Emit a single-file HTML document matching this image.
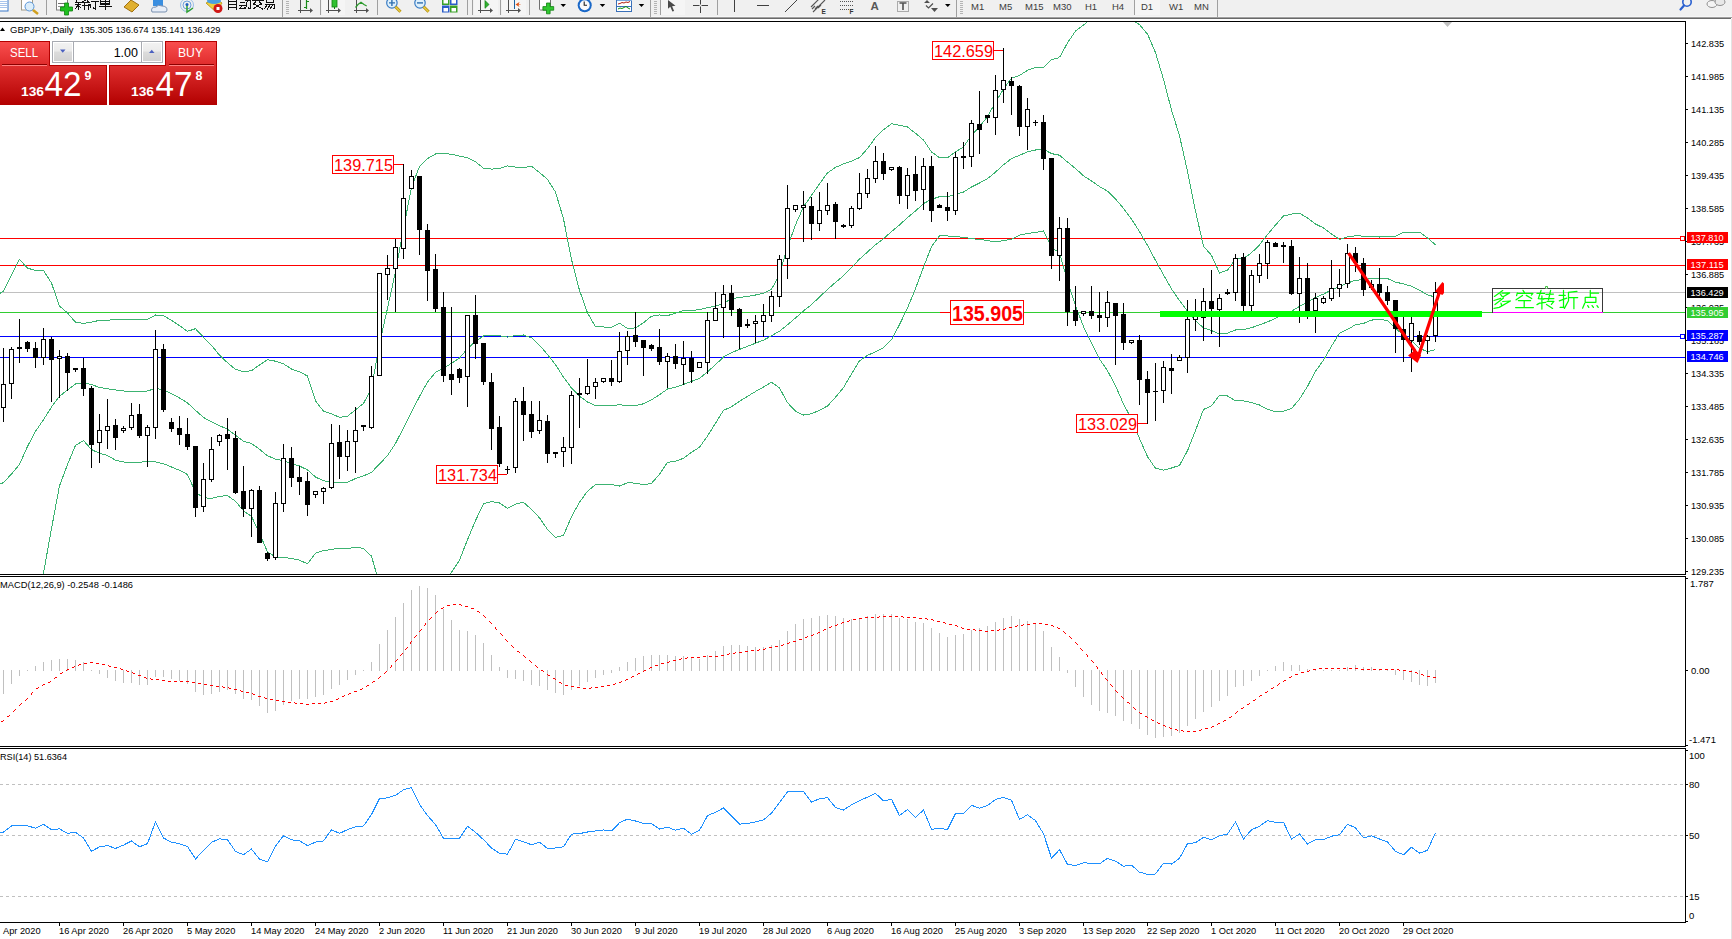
<!DOCTYPE html><html><head><meta charset="utf-8"><style>
html,body{margin:0;padding:0;background:#fff;width:1732px;height:939px;overflow:hidden}
svg{position:absolute;left:0;top:0;display:block}
text{font-family:"Liberation Sans",sans-serif}
</style></head><body>
<svg width="1732" height="939" viewBox="0 0 1732 939">
<defs><clipPath id="cm"><rect x="0" y="22" width="1685" height="552"/></clipPath><clipPath id="cmacd"><rect x="0" y="577" width="1685" height="169"/></clipPath><clipPath id="crsi"><rect x="0" y="749" width="1685" height="173"/></clipPath><linearGradient id="gred" x1="0" y1="0" x2="0" y2="1"><stop offset="0" stop-color="#f04848"/><stop offset="0.5" stop-color="#d21c1c"/><stop offset="1" stop-color="#b00000"/></linearGradient><linearGradient id="gtab" x1="0" y1="0" x2="0" y2="1"><stop offset="0" stop-color="#fa5050"/><stop offset="1" stop-color="#e02c2c"/></linearGradient><linearGradient id="gbig" x1="0" y1="0" x2="0" y2="1"><stop offset="0" stop-color="#e03030"/><stop offset="1" stop-color="#b20000"/></linearGradient><linearGradient id="gbtn" x1="0" y1="0" x2="0" y2="1"><stop offset="0" stop-color="#f2f2f2"/><stop offset="0.45" stop-color="#ebebeb"/><stop offset="0.5" stop-color="#dcdcdc"/><stop offset="1" stop-color="#d2d2d2"/></linearGradient></defs>
<rect x="0" y="0" width="1732" height="939" fill="#fff"/>
<g clip-path="url(#cm)">
<rect x="0" y="238" width="1685" height="1" fill="#ff0000"/>
<rect x="0" y="265" width="1685" height="1" fill="#ff0000"/>
<rect x="0" y="292" width="1685" height="1" fill="#c0c0c0"/>
<rect x="0" y="312" width="1685" height="1" fill="#32cd32"/>
<rect x="0" y="336" width="1685" height="1" fill="#0000ff"/>
<rect x="0" y="357" width="1685" height="1" fill="#0000ff"/>
<path d="M-4.5 486.0 L3.5 482.6 L11.5 474.0 L19.5 464.5 L27.5 446.4 L35.5 431.4 L43.5 419.7 L51.5 407.0 L59.5 396.3 L67.5 389.9 L75.5 384.0 L83.5 382.5 L91.5 384.6 L99.5 387.4 L107.5 388.8 L115.5 389.9 L123.5 391.0 L131.5 391.4 L139.5 391.4 L147.5 391.0 L155.5 388.4 L163.5 389.7 L171.5 393.7 L179.5 398.0 L187.5 402.9 L195.5 410.4 L203.5 417.4 L211.5 421.9 L219.5 425.8 L227.5 429.1 L235.5 435.3 L243.5 441.3 L251.5 443.5 L259.5 449.2 L267.5 455.8 L275.5 459.1 L283.5 460.6 L291.5 463.8 L299.5 466.0 L307.5 469.9 L315.5 477.0 L323.5 480.9 L331.5 481.6 L339.5 482.7 L347.5 482.4 L355.5 478.5 L363.5 475.9 L371.5 472.3 L379.5 464.1 L387.5 455.6 L395.5 443.4 L403.5 427.9 L411.5 412.2 L419.5 396.5 L427.5 382.1 L435.5 372.3 L443.5 368.2 L451.5 363.3 L459.5 358.1 L467.5 348.6 L475.5 341.3 L483.5 336.0 L491.5 335.3 L499.5 335.7 L507.5 337.1 L515.5 335.6 L523.5 335.0 L531.5 337.8 L539.5 345.2 L547.5 354.4 L555.5 364.7 L563.5 377.1 L571.5 388.0 L579.5 396.2 L587.5 402.0 L595.5 405.7 L603.5 405.8 L611.5 405.9 L619.5 404.6 L627.5 405.7 L635.5 405.5 L643.5 403.8 L651.5 399.8 L659.5 394.7 L667.5 389.0 L675.5 387.2 L683.5 384.4 L691.5 381.4 L699.5 378.5 L707.5 371.8 L715.5 364.7 L723.5 357.0 L731.5 352.7 L739.5 349.4 L747.5 346.3 L755.5 343.2 L763.5 340.1 L771.5 335.8 L779.5 331.2 L787.5 324.8 L795.5 318.0 L803.5 310.9 L811.5 304.6 L819.5 297.0 L827.5 289.5 L835.5 282.4 L843.5 275.8 L851.5 267.6 L859.5 259.1 L867.5 252.0 L875.5 244.7 L883.5 238.7 L891.5 231.6 L899.5 225.0 L907.5 217.5 L915.5 211.0 L923.5 203.6 L931.5 199.3 L939.5 196.7 L947.5 196.8 L955.5 194.4 L963.5 192.1 L971.5 187.0 L979.5 183.0 L987.5 178.7 L995.5 172.1 L1003.5 164.8 L1011.5 158.6 L1019.5 155.3 L1027.5 151.9 L1035.5 150.0 L1043.5 149.2 L1051.5 153.6 L1059.5 155.2 L1067.5 162.0 L1075.5 168.5 L1083.5 175.8 L1091.5 181.0 L1099.5 186.5 L1107.5 191.1 L1115.5 199.0 L1123.5 208.3 L1131.5 219.1 L1139.5 231.6 L1147.5 245.4 L1155.5 260.4 L1163.5 274.8 L1171.5 289.0 L1179.5 300.6 L1187.5 311.1 L1195.5 320.8 L1203.5 327.9 L1211.5 330.6 L1219.5 334.0 L1227.5 333.1 L1235.5 330.0 L1243.5 329.7 L1251.5 327.7 L1259.5 324.9 L1267.5 321.9 L1275.5 318.5 L1283.5 313.6 L1291.5 311.3 L1299.5 306.3 L1307.5 302.2 L1315.5 297.5 L1323.5 294.1 L1331.5 290.0 L1339.5 286.3 L1347.5 283.0 L1355.5 280.3 L1363.5 279.7 L1371.5 278.5 L1379.5 278.2 L1387.5 278.6 L1395.5 282.1 L1403.5 283.9 L1411.5 286.2 L1419.5 290.2 L1427.5 294.9 L1435.5 297.1" fill="none" stroke="#3cb371" stroke-width="1" shape-rendering="crispEdges"/>
<path d="M-4.5 296.0 L3.5 291.1 L11.5 275.1 L19.5 259.4 L27.5 268.2 L35.5 270.4 L43.5 270.4 L51.5 283.1 L59.5 306.0 L67.5 313.0 L75.5 322.2 L83.5 323.3 L91.5 322.2 L99.5 320.3 L107.5 320.3 L115.5 319.4 L123.5 319.4 L131.5 319.4 L139.5 319.4 L147.5 319.4 L155.5 315.0 L163.5 315.7 L171.5 320.4 L179.5 325.7 L187.5 331.3 L195.5 328.7 L203.5 337.3 L211.5 345.3 L219.5 355.2 L227.5 362.7 L235.5 369.4 L243.5 371.7 L251.5 370.7 L259.5 364.9 L267.5 359.7 L275.5 361.2 L283.5 363.8 L291.5 369.0 L299.5 371.8 L307.5 376.0 L315.5 400.9 L323.5 411.2 L331.5 413.7 L339.5 417.3 L347.5 416.3 L355.5 409.8 L363.5 403.5 L371.5 388.3 L379.5 343.9 L387.5 308.4 L395.5 271.6 L403.5 228.7 L411.5 187.2 L419.5 166.5 L427.5 158.6 L435.5 154.0 L443.5 153.4 L451.5 154.3 L459.5 156.1 L467.5 157.6 L475.5 161.8 L483.5 168.2 L491.5 169.1 L499.5 168.4 L507.5 165.9 L515.5 167.1 L523.5 167.7 L531.5 166.1 L539.5 172.6 L547.5 179.4 L555.5 192.0 L563.5 218.9 L571.5 259.5 L579.5 290.3 L587.5 312.9 L595.5 326.7 L603.5 327.0 L611.5 327.2 L619.5 323.2 L627.5 328.5 L635.5 327.9 L643.5 322.8 L651.5 316.2 L659.5 315.0 L667.5 315.6 L675.5 313.2 L683.5 310.4 L691.5 310.6 L699.5 309.6 L707.5 307.7 L715.5 306.1 L723.5 303.6 L731.5 298.6 L739.5 297.5 L747.5 296.4 L755.5 295.0 L763.5 293.2 L771.5 289.3 L779.5 274.6 L787.5 246.9 L795.5 224.8 L803.5 206.8 L811.5 195.4 L819.5 183.8 L827.5 172.9 L835.5 167.4 L843.5 163.9 L851.5 161.2 L859.5 157.5 L867.5 148.7 L875.5 137.6 L883.5 129.8 L891.5 123.6 L899.5 125.3 L907.5 127.0 L915.5 133.3 L923.5 140.0 L931.5 151.9 L939.5 157.7 L947.5 157.7 L955.5 151.9 L963.5 147.0 L971.5 135.2 L979.5 126.7 L987.5 116.6 L995.5 102.3 L1003.5 89.0 L1011.5 78.2 L1019.5 75.4 L1027.5 70.3 L1035.5 67.5 L1043.5 67.4 L1051.5 59.8 L1059.5 57.5 L1067.5 42.9 L1075.5 31.1 L1083.5 24.9 L1091.5 18.8 L1099.5 14.0 L1107.5 11.5 L1115.5 12.3 L1123.5 12.5 L1131.5 19.4 L1139.5 24.7 L1147.5 34.1 L1155.5 52.6 L1163.5 79.4 L1171.5 110.0 L1179.5 135.7 L1187.5 171.5 L1195.5 211.0 L1203.5 246.2 L1211.5 255.4 L1219.5 273.0 L1227.5 270.2 L1235.5 259.1 L1243.5 258.4 L1251.5 252.8 L1259.5 244.9 L1267.5 234.5 L1275.5 225.1 L1283.5 216.0 L1291.5 214.1 L1299.5 213.3 L1307.5 218.0 L1315.5 224.0 L1323.5 227.9 L1331.5 233.9 L1339.5 239.5 L1347.5 236.7 L1355.5 235.8 L1363.5 236.1 L1371.5 236.9 L1379.5 237.0 L1387.5 236.8 L1395.5 236.2 L1403.5 232.3 L1411.5 232.1 L1419.5 232.1 L1427.5 238.0 L1435.5 244.7" fill="none" stroke="#3cb371" stroke-width="1" shape-rendering="crispEdges"/>
<path d="M3.5 760.0 L11.5 720.0 L19.5 680.0 L27.5 640.0 L35.5 610.0 L43.5 573.0 L51.5 528.6 L59.5 485.8 L67.5 464.5 L75.5 445.3 L83.5 440.6 L91.5 449.5 L99.5 453.4 L107.5 455.5 L115.5 460.2 L123.5 461.9 L131.5 463.0 L139.5 462.3 L147.5 461.3 L155.5 461.9 L163.5 463.7 L171.5 467.0 L179.5 470.3 L187.5 474.5 L195.5 492.2 L203.5 497.6 L211.5 498.5 L219.5 496.4 L227.5 495.6 L235.5 501.2 L243.5 510.9 L251.5 516.3 L259.5 533.5 L267.5 551.9 L275.5 557.0 L283.5 557.4 L291.5 558.5 L299.5 560.2 L307.5 563.8 L315.5 553.2 L323.5 550.6 L331.5 549.5 L339.5 548.1 L347.5 548.5 L355.5 547.3 L363.5 548.3 L371.5 556.2 L379.5 584.3 L387.5 602.9 L395.5 615.1 L403.5 627.0 L411.5 637.1 L419.5 626.5 L427.5 605.5 L435.5 590.7 L443.5 583.0 L451.5 572.3 L459.5 560.1 L467.5 539.7 L475.5 520.7 L483.5 503.8 L491.5 501.5 L499.5 502.9 L507.5 508.3 L515.5 504.1 L523.5 502.3 L531.5 509.5 L539.5 517.8 L547.5 529.4 L555.5 537.3 L563.5 535.3 L571.5 516.6 L579.5 502.2 L587.5 491.2 L595.5 484.7 L603.5 484.7 L611.5 484.6 L619.5 486.0 L627.5 482.8 L635.5 483.1 L643.5 484.8 L651.5 483.4 L659.5 474.3 L667.5 462.4 L675.5 461.2 L683.5 458.3 L691.5 452.2 L699.5 447.3 L707.5 436.0 L715.5 423.2 L723.5 410.3 L731.5 406.8 L739.5 401.3 L747.5 396.3 L755.5 391.5 L763.5 387.0 L771.5 382.3 L779.5 387.9 L787.5 402.7 L795.5 411.2 L803.5 415.0 L811.5 413.8 L819.5 410.3 L827.5 406.0 L835.5 397.3 L843.5 387.6 L851.5 373.9 L859.5 360.8 L867.5 355.4 L875.5 351.8 L883.5 347.6 L891.5 339.6 L899.5 324.7 L907.5 308.0 L915.5 288.7 L923.5 267.1 L931.5 246.7 L939.5 235.7 L947.5 236.0 L955.5 236.9 L963.5 237.1 L971.5 238.8 L979.5 239.3 L987.5 240.7 L995.5 241.8 L1003.5 240.6 L1011.5 239.1 L1019.5 235.2 L1027.5 233.5 L1035.5 232.4 L1043.5 231.0 L1051.5 247.4 L1059.5 252.9 L1067.5 281.2 L1075.5 305.9 L1083.5 326.6 L1091.5 343.2 L1099.5 359.1 L1107.5 370.7 L1115.5 385.8 L1123.5 404.1 L1131.5 418.8 L1139.5 438.5 L1147.5 456.6 L1155.5 468.3 L1163.5 470.1 L1171.5 468.0 L1179.5 465.4 L1187.5 450.7 L1195.5 430.5 L1203.5 409.5 L1211.5 405.8 L1219.5 395.1 L1227.5 396.0 L1235.5 400.9 L1243.5 400.9 L1251.5 402.6 L1259.5 405.0 L1267.5 409.3 L1275.5 411.8 L1283.5 411.3 L1291.5 408.6 L1299.5 399.2 L1307.5 386.4 L1315.5 371.1 L1323.5 360.3 L1331.5 346.1 L1339.5 333.2 L1347.5 329.4 L1355.5 324.8 L1363.5 323.4 L1371.5 320.1 L1379.5 319.4 L1387.5 320.4 L1395.5 328.1 L1403.5 335.4 L1411.5 340.4 L1419.5 348.3 L1427.5 351.7 L1435.5 349.6" fill="none" stroke="#3cb371" stroke-width="1" shape-rendering="crispEdges"/>
<rect x="3" y="348" width="1" height="74" fill="#000"/>
<rect x="1" y="384" width="5" height="24" fill="#000"/>
<rect x="2" y="385" width="3" height="22" fill="#fff"/>
<rect x="11" y="347" width="1" height="52" fill="#000"/>
<rect x="9" y="349" width="5" height="35" fill="#000"/>
<rect x="10" y="350" width="3" height="33" fill="#fff"/>
<rect x="19" y="319" width="1" height="44" fill="#000"/>
<rect x="17" y="347" width="5" height="2" fill="#000"/>
<rect x="27" y="341" width="1" height="11" fill="#000"/>
<rect x="25" y="342" width="5" height="7" fill="#000"/>
<rect x="35" y="342" width="1" height="26" fill="#000"/>
<rect x="33" y="348" width="5" height="10" fill="#000"/>
<rect x="43" y="328" width="1" height="37" fill="#000"/>
<rect x="41" y="339" width="5" height="19" fill="#000"/>
<rect x="42" y="340" width="3" height="17" fill="#fff"/>
<rect x="51" y="337" width="1" height="65" fill="#000"/>
<rect x="49" y="339" width="5" height="21" fill="#000"/>
<rect x="59" y="350" width="1" height="48" fill="#000"/>
<rect x="57" y="356" width="5" height="3" fill="#000"/>
<rect x="58" y="357" width="3" height="1" fill="#fff"/>
<rect x="67" y="353" width="1" height="38" fill="#000"/>
<rect x="65" y="356" width="5" height="17" fill="#000"/>
<rect x="75" y="368" width="1" height="4" fill="#000"/>
<rect x="73" y="368" width="5" height="2" fill="#000"/>
<rect x="83" y="358" width="1" height="38" fill="#000"/>
<rect x="81" y="368" width="5" height="21" fill="#000"/>
<rect x="91" y="386" width="1" height="82" fill="#000"/>
<rect x="89" y="388" width="5" height="57" fill="#000"/>
<rect x="99" y="414" width="1" height="49" fill="#000"/>
<rect x="97" y="430" width="5" height="13" fill="#000"/>
<rect x="98" y="431" width="3" height="11" fill="#fff"/>
<rect x="107" y="399" width="1" height="50" fill="#000"/>
<rect x="105" y="426" width="5" height="5" fill="#000"/>
<rect x="106" y="427" width="3" height="3" fill="#fff"/>
<rect x="115" y="419" width="1" height="31" fill="#000"/>
<rect x="113" y="425" width="5" height="13" fill="#000"/>
<rect x="123" y="426" width="1" height="7" fill="#000"/>
<rect x="121" y="428" width="5" height="3" fill="#000"/>
<rect x="122" y="429" width="3" height="1" fill="#fff"/>
<rect x="131" y="403" width="1" height="27" fill="#000"/>
<rect x="129" y="415" width="5" height="13" fill="#000"/>
<rect x="130" y="416" width="3" height="11" fill="#fff"/>
<rect x="139" y="404" width="1" height="34" fill="#000"/>
<rect x="137" y="414" width="5" height="22" fill="#000"/>
<rect x="147" y="425" width="1" height="42" fill="#000"/>
<rect x="145" y="427" width="5" height="9" fill="#000"/>
<rect x="146" y="428" width="3" height="7" fill="#fff"/>
<rect x="155" y="330" width="1" height="109" fill="#000"/>
<rect x="153" y="349" width="5" height="79" fill="#000"/>
<rect x="154" y="350" width="3" height="77" fill="#fff"/>
<rect x="163" y="344" width="1" height="68" fill="#000"/>
<rect x="161" y="349" width="5" height="61" fill="#000"/>
<rect x="171" y="418" width="1" height="14" fill="#000"/>
<rect x="169" y="422" width="5" height="7" fill="#000"/>
<rect x="179" y="416" width="1" height="29" fill="#000"/>
<rect x="177" y="428" width="5" height="7" fill="#000"/>
<rect x="187" y="418" width="1" height="32" fill="#000"/>
<rect x="185" y="434" width="5" height="13" fill="#000"/>
<rect x="195" y="446" width="1" height="71" fill="#000"/>
<rect x="193" y="446" width="5" height="62" fill="#000"/>
<rect x="203" y="463" width="1" height="49" fill="#000"/>
<rect x="201" y="479" width="5" height="28" fill="#000"/>
<rect x="202" y="480" width="3" height="26" fill="#fff"/>
<rect x="211" y="437" width="1" height="45" fill="#000"/>
<rect x="209" y="449" width="5" height="31" fill="#000"/>
<rect x="210" y="450" width="3" height="29" fill="#fff"/>
<rect x="219" y="434" width="1" height="12" fill="#000"/>
<rect x="217" y="435" width="5" height="7" fill="#000"/>
<rect x="218" y="436" width="3" height="5" fill="#fff"/>
<rect x="227" y="418" width="1" height="52" fill="#000"/>
<rect x="225" y="434" width="5" height="5" fill="#000"/>
<rect x="235" y="431" width="1" height="63" fill="#000"/>
<rect x="233" y="438" width="5" height="55" fill="#000"/>
<rect x="243" y="466" width="1" height="51" fill="#000"/>
<rect x="241" y="491" width="5" height="18" fill="#000"/>
<rect x="251" y="489" width="1" height="48" fill="#000"/>
<rect x="249" y="490" width="5" height="19" fill="#000"/>
<rect x="250" y="491" width="3" height="17" fill="#fff"/>
<rect x="259" y="486" width="1" height="57" fill="#000"/>
<rect x="257" y="490" width="5" height="53" fill="#000"/>
<rect x="267" y="552" width="1" height="9" fill="#000"/>
<rect x="265" y="553" width="5" height="6" fill="#000"/>
<rect x="275" y="492" width="1" height="68" fill="#000"/>
<rect x="273" y="503" width="5" height="55" fill="#000"/>
<rect x="274" y="504" width="3" height="53" fill="#fff"/>
<rect x="283" y="444" width="1" height="68" fill="#000"/>
<rect x="281" y="458" width="5" height="46" fill="#000"/>
<rect x="282" y="459" width="3" height="44" fill="#fff"/>
<rect x="291" y="447" width="1" height="40" fill="#000"/>
<rect x="289" y="458" width="5" height="20" fill="#000"/>
<rect x="299" y="466" width="1" height="29" fill="#000"/>
<rect x="297" y="477" width="5" height="5" fill="#000"/>
<rect x="307" y="472" width="1" height="44" fill="#000"/>
<rect x="305" y="481" width="5" height="24" fill="#000"/>
<rect x="315" y="491" width="1" height="7" fill="#000"/>
<rect x="313" y="491" width="5" height="4" fill="#000"/>
<rect x="314" y="492" width="3" height="2" fill="#fff"/>
<rect x="323" y="487" width="1" height="17" fill="#000"/>
<rect x="321" y="488" width="5" height="4" fill="#000"/>
<rect x="322" y="489" width="3" height="2" fill="#fff"/>
<rect x="331" y="424" width="1" height="65" fill="#000"/>
<rect x="329" y="443" width="5" height="45" fill="#000"/>
<rect x="330" y="444" width="3" height="43" fill="#fff"/>
<rect x="339" y="425" width="1" height="54" fill="#000"/>
<rect x="337" y="442" width="5" height="15" fill="#000"/>
<rect x="347" y="430" width="1" height="41" fill="#000"/>
<rect x="345" y="441" width="5" height="16" fill="#000"/>
<rect x="346" y="442" width="3" height="14" fill="#fff"/>
<rect x="355" y="407" width="1" height="66" fill="#000"/>
<rect x="353" y="430" width="5" height="12" fill="#000"/>
<rect x="354" y="431" width="3" height="10" fill="#fff"/>
<rect x="363" y="425" width="1" height="6" fill="#000"/>
<rect x="361" y="425" width="5" height="2" fill="#000"/>
<rect x="371" y="366" width="1" height="63" fill="#000"/>
<rect x="369" y="376" width="5" height="52" fill="#000"/>
<rect x="370" y="377" width="3" height="50" fill="#fff"/>
<rect x="379" y="273" width="1" height="103" fill="#000"/>
<rect x="377" y="273" width="5" height="103" fill="#000"/>
<rect x="378" y="274" width="3" height="101" fill="#fff"/>
<rect x="387" y="255" width="1" height="45" fill="#000"/>
<rect x="385" y="268" width="5" height="7" fill="#000"/>
<rect x="386" y="269" width="3" height="5" fill="#fff"/>
<rect x="395" y="239" width="1" height="73" fill="#000"/>
<rect x="393" y="247" width="5" height="22" fill="#000"/>
<rect x="394" y="248" width="3" height="20" fill="#fff"/>
<rect x="403" y="164" width="1" height="95" fill="#000"/>
<rect x="401" y="198" width="5" height="51" fill="#000"/>
<rect x="402" y="199" width="3" height="49" fill="#fff"/>
<rect x="411" y="170" width="1" height="19" fill="#000"/>
<rect x="409" y="176" width="5" height="13" fill="#000"/>
<rect x="410" y="177" width="3" height="11" fill="#fff"/>
<rect x="419" y="176" width="1" height="79" fill="#000"/>
<rect x="417" y="176" width="5" height="54" fill="#000"/>
<rect x="427" y="224" width="1" height="77" fill="#000"/>
<rect x="425" y="230" width="5" height="41" fill="#000"/>
<rect x="435" y="254" width="1" height="58" fill="#000"/>
<rect x="433" y="269" width="5" height="40" fill="#000"/>
<rect x="443" y="292" width="1" height="90" fill="#000"/>
<rect x="441" y="307" width="5" height="69" fill="#000"/>
<rect x="451" y="307" width="1" height="88" fill="#000"/>
<rect x="449" y="374" width="5" height="6" fill="#000"/>
<rect x="459" y="368" width="1" height="15" fill="#000"/>
<rect x="457" y="369" width="5" height="9" fill="#000"/>
<rect x="467" y="315" width="1" height="92" fill="#000"/>
<rect x="465" y="315" width="5" height="62" fill="#000"/>
<rect x="466" y="316" width="3" height="60" fill="#fff"/>
<rect x="475" y="295" width="1" height="64" fill="#000"/>
<rect x="473" y="315" width="5" height="29" fill="#000"/>
<rect x="483" y="343" width="1" height="42" fill="#000"/>
<rect x="481" y="343" width="5" height="39" fill="#000"/>
<rect x="491" y="373" width="1" height="77" fill="#000"/>
<rect x="489" y="382" width="5" height="47" fill="#000"/>
<rect x="499" y="416" width="1" height="51" fill="#000"/>
<rect x="497" y="427" width="5" height="37" fill="#000"/>
<rect x="507" y="466" width="1" height="8" fill="#000"/>
<rect x="505" y="469" width="5" height="1" fill="#000"/>
<rect x="515" y="398" width="1" height="75" fill="#000"/>
<rect x="513" y="401" width="5" height="67" fill="#000"/>
<rect x="514" y="402" width="3" height="65" fill="#fff"/>
<rect x="523" y="387" width="1" height="54" fill="#000"/>
<rect x="521" y="401" width="5" height="14" fill="#000"/>
<rect x="531" y="401" width="1" height="37" fill="#000"/>
<rect x="529" y="414" width="5" height="18" fill="#000"/>
<rect x="539" y="401" width="1" height="33" fill="#000"/>
<rect x="537" y="420" width="5" height="11" fill="#000"/>
<rect x="538" y="421" width="3" height="9" fill="#fff"/>
<rect x="547" y="415" width="1" height="48" fill="#000"/>
<rect x="545" y="421" width="5" height="33" fill="#000"/>
<rect x="555" y="452" width="1" height="6" fill="#000"/>
<rect x="553" y="452" width="5" height="2" fill="#000"/>
<rect x="563" y="437" width="1" height="30" fill="#000"/>
<rect x="561" y="447" width="5" height="5" fill="#000"/>
<rect x="562" y="448" width="3" height="3" fill="#fff"/>
<rect x="571" y="391" width="1" height="73" fill="#000"/>
<rect x="569" y="395" width="5" height="53" fill="#000"/>
<rect x="570" y="396" width="3" height="51" fill="#fff"/>
<rect x="579" y="378" width="1" height="50" fill="#000"/>
<rect x="577" y="393" width="5" height="2" fill="#000"/>
<rect x="587" y="359" width="1" height="36" fill="#000"/>
<rect x="585" y="386" width="5" height="8" fill="#000"/>
<rect x="586" y="387" width="3" height="6" fill="#fff"/>
<rect x="595" y="378" width="1" height="21" fill="#000"/>
<rect x="593" y="382" width="5" height="5" fill="#000"/>
<rect x="594" y="383" width="3" height="3" fill="#fff"/>
<rect x="603" y="378" width="1" height="5" fill="#000"/>
<rect x="601" y="378" width="5" height="4" fill="#000"/>
<rect x="602" y="379" width="3" height="2" fill="#fff"/>
<rect x="611" y="360" width="1" height="26" fill="#000"/>
<rect x="609" y="378" width="5" height="4" fill="#000"/>
<rect x="619" y="332" width="1" height="51" fill="#000"/>
<rect x="617" y="351" width="5" height="31" fill="#000"/>
<rect x="618" y="352" width="3" height="29" fill="#fff"/>
<rect x="627" y="331" width="1" height="34" fill="#000"/>
<rect x="625" y="336" width="5" height="15" fill="#000"/>
<rect x="626" y="337" width="3" height="13" fill="#fff"/>
<rect x="635" y="312" width="1" height="35" fill="#000"/>
<rect x="633" y="335" width="5" height="7" fill="#000"/>
<rect x="643" y="340" width="1" height="36" fill="#000"/>
<rect x="641" y="340" width="5" height="8" fill="#000"/>
<rect x="651" y="344" width="1" height="7" fill="#000"/>
<rect x="649" y="345" width="5" height="4" fill="#000"/>
<rect x="659" y="329" width="1" height="36" fill="#000"/>
<rect x="657" y="347" width="5" height="15" fill="#000"/>
<rect x="667" y="353" width="1" height="35" fill="#000"/>
<rect x="665" y="356" width="5" height="6" fill="#000"/>
<rect x="666" y="357" width="3" height="4" fill="#fff"/>
<rect x="675" y="344" width="1" height="25" fill="#000"/>
<rect x="673" y="356" width="5" height="8" fill="#000"/>
<rect x="683" y="341" width="1" height="44" fill="#000"/>
<rect x="681" y="358" width="5" height="7" fill="#000"/>
<rect x="682" y="359" width="3" height="5" fill="#fff"/>
<rect x="691" y="351" width="1" height="32" fill="#000"/>
<rect x="689" y="358" width="5" height="14" fill="#000"/>
<rect x="699" y="362" width="1" height="6" fill="#000"/>
<rect x="697" y="362" width="5" height="6" fill="#000"/>
<rect x="698" y="363" width="3" height="4" fill="#fff"/>
<rect x="707" y="312" width="1" height="62" fill="#000"/>
<rect x="705" y="320" width="5" height="43" fill="#000"/>
<rect x="706" y="321" width="3" height="41" fill="#fff"/>
<rect x="715" y="292" width="1" height="29" fill="#000"/>
<rect x="713" y="308" width="5" height="13" fill="#000"/>
<rect x="714" y="309" width="3" height="11" fill="#fff"/>
<rect x="723" y="285" width="1" height="53" fill="#000"/>
<rect x="721" y="294" width="5" height="14" fill="#000"/>
<rect x="722" y="295" width="3" height="12" fill="#fff"/>
<rect x="731" y="285" width="1" height="31" fill="#000"/>
<rect x="729" y="293" width="5" height="17" fill="#000"/>
<rect x="739" y="308" width="1" height="41" fill="#000"/>
<rect x="737" y="309" width="5" height="18" fill="#000"/>
<rect x="747" y="319" width="1" height="9" fill="#000"/>
<rect x="745" y="324" width="5" height="2" fill="#000"/>
<rect x="755" y="315" width="1" height="28" fill="#000"/>
<rect x="753" y="321" width="5" height="3" fill="#000"/>
<rect x="754" y="322" width="3" height="1" fill="#fff"/>
<rect x="763" y="304" width="1" height="33" fill="#000"/>
<rect x="761" y="315" width="5" height="7" fill="#000"/>
<rect x="762" y="316" width="3" height="5" fill="#fff"/>
<rect x="771" y="291" width="1" height="31" fill="#000"/>
<rect x="769" y="296" width="5" height="20" fill="#000"/>
<rect x="770" y="297" width="3" height="18" fill="#fff"/>
<rect x="779" y="255" width="1" height="52" fill="#000"/>
<rect x="777" y="259" width="5" height="38" fill="#000"/>
<rect x="778" y="260" width="3" height="36" fill="#fff"/>
<rect x="787" y="185" width="1" height="94" fill="#000"/>
<rect x="785" y="208" width="5" height="51" fill="#000"/>
<rect x="786" y="209" width="3" height="49" fill="#fff"/>
<rect x="795" y="205" width="1" height="7" fill="#000"/>
<rect x="793" y="205" width="5" height="5" fill="#000"/>
<rect x="794" y="206" width="3" height="3" fill="#fff"/>
<rect x="803" y="191" width="1" height="51" fill="#000"/>
<rect x="801" y="205" width="5" height="3" fill="#000"/>
<rect x="802" y="206" width="3" height="1" fill="#fff"/>
<rect x="811" y="197" width="1" height="43" fill="#000"/>
<rect x="809" y="206" width="5" height="18" fill="#000"/>
<rect x="819" y="192" width="1" height="39" fill="#000"/>
<rect x="817" y="210" width="5" height="14" fill="#000"/>
<rect x="818" y="211" width="3" height="12" fill="#fff"/>
<rect x="827" y="183" width="1" height="32" fill="#000"/>
<rect x="825" y="205" width="5" height="6" fill="#000"/>
<rect x="826" y="206" width="3" height="4" fill="#fff"/>
<rect x="835" y="202" width="1" height="37" fill="#000"/>
<rect x="833" y="204" width="5" height="18" fill="#000"/>
<rect x="843" y="224" width="1" height="4" fill="#000"/>
<rect x="841" y="225" width="5" height="2" fill="#000"/>
<rect x="851" y="206" width="1" height="22" fill="#000"/>
<rect x="849" y="208" width="5" height="18" fill="#000"/>
<rect x="850" y="209" width="3" height="16" fill="#fff"/>
<rect x="859" y="173" width="1" height="37" fill="#000"/>
<rect x="857" y="193" width="5" height="16" fill="#000"/>
<rect x="858" y="194" width="3" height="14" fill="#fff"/>
<rect x="867" y="169" width="1" height="29" fill="#000"/>
<rect x="865" y="178" width="5" height="16" fill="#000"/>
<rect x="866" y="179" width="3" height="14" fill="#fff"/>
<rect x="875" y="146" width="1" height="37" fill="#000"/>
<rect x="873" y="161" width="5" height="18" fill="#000"/>
<rect x="874" y="162" width="3" height="16" fill="#fff"/>
<rect x="883" y="153" width="1" height="27" fill="#000"/>
<rect x="881" y="161" width="5" height="13" fill="#000"/>
<rect x="891" y="167" width="1" height="4" fill="#000"/>
<rect x="889" y="167" width="5" height="3" fill="#000"/>
<rect x="890" y="168" width="3" height="1" fill="#fff"/>
<rect x="899" y="166" width="1" height="38" fill="#000"/>
<rect x="897" y="167" width="5" height="29" fill="#000"/>
<rect x="907" y="168" width="1" height="41" fill="#000"/>
<rect x="905" y="175" width="5" height="21" fill="#000"/>
<rect x="906" y="176" width="3" height="19" fill="#fff"/>
<rect x="915" y="156" width="1" height="45" fill="#000"/>
<rect x="913" y="174" width="5" height="17" fill="#000"/>
<rect x="923" y="158" width="1" height="52" fill="#000"/>
<rect x="921" y="166" width="5" height="24" fill="#000"/>
<rect x="922" y="167" width="3" height="22" fill="#fff"/>
<rect x="931" y="156" width="1" height="66" fill="#000"/>
<rect x="929" y="166" width="5" height="45" fill="#000"/>
<rect x="939" y="204" width="1" height="4" fill="#000"/>
<rect x="937" y="205" width="5" height="3" fill="#000"/>
<rect x="947" y="192" width="1" height="29" fill="#000"/>
<rect x="945" y="207" width="5" height="4" fill="#000"/>
<rect x="955" y="152" width="1" height="63" fill="#000"/>
<rect x="953" y="157" width="5" height="54" fill="#000"/>
<rect x="954" y="158" width="3" height="52" fill="#fff"/>
<rect x="963" y="142" width="1" height="27" fill="#000"/>
<rect x="961" y="156" width="5" height="2" fill="#000"/>
<rect x="971" y="120" width="1" height="47" fill="#000"/>
<rect x="969" y="123" width="5" height="34" fill="#000"/>
<rect x="970" y="124" width="3" height="32" fill="#fff"/>
<rect x="979" y="91" width="1" height="63" fill="#000"/>
<rect x="977" y="124" width="5" height="6" fill="#000"/>
<rect x="987" y="115" width="1" height="8" fill="#000"/>
<rect x="985" y="115" width="5" height="3" fill="#000"/>
<rect x="995" y="75" width="1" height="60" fill="#000"/>
<rect x="993" y="90" width="5" height="28" fill="#000"/>
<rect x="994" y="91" width="3" height="26" fill="#fff"/>
<rect x="1003" y="48" width="1" height="55" fill="#000"/>
<rect x="1001" y="80" width="5" height="10" fill="#000"/>
<rect x="1002" y="81" width="3" height="8" fill="#fff"/>
<rect x="1011" y="77" width="1" height="38" fill="#000"/>
<rect x="1009" y="81" width="5" height="5" fill="#000"/>
<rect x="1019" y="85" width="1" height="51" fill="#000"/>
<rect x="1017" y="86" width="5" height="41" fill="#000"/>
<rect x="1027" y="98" width="1" height="52" fill="#000"/>
<rect x="1025" y="109" width="5" height="18" fill="#000"/>
<rect x="1026" y="110" width="3" height="16" fill="#fff"/>
<rect x="1035" y="120" width="1" height="6" fill="#000"/>
<rect x="1033" y="122" width="5" height="1" fill="#000"/>
<rect x="1043" y="115" width="1" height="55" fill="#000"/>
<rect x="1041" y="122" width="5" height="37" fill="#000"/>
<rect x="1051" y="158" width="1" height="111" fill="#000"/>
<rect x="1049" y="158" width="5" height="98" fill="#000"/>
<rect x="1059" y="217" width="1" height="64" fill="#000"/>
<rect x="1057" y="228" width="5" height="28" fill="#000"/>
<rect x="1058" y="229" width="3" height="26" fill="#fff"/>
<rect x="1067" y="218" width="1" height="108" fill="#000"/>
<rect x="1065" y="228" width="5" height="84" fill="#000"/>
<rect x="1075" y="286" width="1" height="40" fill="#000"/>
<rect x="1073" y="310" width="5" height="11" fill="#000"/>
<rect x="1083" y="311" width="1" height="5" fill="#000"/>
<rect x="1081" y="311" width="5" height="3" fill="#000"/>
<rect x="1082" y="312" width="3" height="1" fill="#fff"/>
<rect x="1091" y="286" width="1" height="33" fill="#000"/>
<rect x="1089" y="311" width="5" height="5" fill="#000"/>
<rect x="1099" y="292" width="1" height="40" fill="#000"/>
<rect x="1097" y="315" width="5" height="3" fill="#000"/>
<rect x="1107" y="291" width="1" height="36" fill="#000"/>
<rect x="1105" y="302" width="5" height="16" fill="#000"/>
<rect x="1106" y="303" width="3" height="14" fill="#fff"/>
<rect x="1115" y="303" width="1" height="62" fill="#000"/>
<rect x="1113" y="303" width="5" height="13" fill="#000"/>
<rect x="1123" y="303" width="1" height="47" fill="#000"/>
<rect x="1121" y="314" width="5" height="29" fill="#000"/>
<rect x="1131" y="340" width="1" height="4" fill="#000"/>
<rect x="1129" y="340" width="5" height="3" fill="#000"/>
<rect x="1130" y="341" width="3" height="1" fill="#fff"/>
<rect x="1139" y="335" width="1" height="70" fill="#000"/>
<rect x="1137" y="340" width="5" height="40" fill="#000"/>
<rect x="1147" y="371" width="1" height="53" fill="#000"/>
<rect x="1145" y="379" width="5" height="14" fill="#000"/>
<rect x="1155" y="363" width="1" height="58" fill="#000"/>
<rect x="1153" y="391" width="5" height="1" fill="#000"/>
<rect x="1163" y="361" width="1" height="42" fill="#000"/>
<rect x="1161" y="367" width="5" height="24" fill="#000"/>
<rect x="1162" y="368" width="3" height="22" fill="#fff"/>
<rect x="1171" y="354" width="1" height="40" fill="#000"/>
<rect x="1169" y="368" width="5" height="3" fill="#000"/>
<rect x="1179" y="355" width="1" height="6" fill="#000"/>
<rect x="1177" y="357" width="5" height="4" fill="#000"/>
<rect x="1178" y="358" width="3" height="2" fill="#fff"/>
<rect x="1187" y="300" width="1" height="73" fill="#000"/>
<rect x="1185" y="319" width="5" height="39" fill="#000"/>
<rect x="1186" y="320" width="3" height="37" fill="#fff"/>
<rect x="1195" y="299" width="1" height="32" fill="#000"/>
<rect x="1193" y="316" width="5" height="4" fill="#000"/>
<rect x="1194" y="317" width="3" height="2" fill="#fff"/>
<rect x="1203" y="288" width="1" height="53" fill="#000"/>
<rect x="1201" y="301" width="5" height="17" fill="#000"/>
<rect x="1202" y="302" width="3" height="15" fill="#fff"/>
<rect x="1211" y="270" width="1" height="64" fill="#000"/>
<rect x="1209" y="301" width="5" height="8" fill="#000"/>
<rect x="1219" y="294" width="1" height="53" fill="#000"/>
<rect x="1217" y="298" width="5" height="12" fill="#000"/>
<rect x="1218" y="299" width="3" height="10" fill="#fff"/>
<rect x="1227" y="289" width="1" height="6" fill="#000"/>
<rect x="1225" y="292" width="5" height="2" fill="#000"/>
<rect x="1235" y="254" width="1" height="47" fill="#000"/>
<rect x="1233" y="258" width="5" height="35" fill="#000"/>
<rect x="1234" y="259" width="3" height="33" fill="#fff"/>
<rect x="1243" y="253" width="1" height="58" fill="#000"/>
<rect x="1241" y="257" width="5" height="49" fill="#000"/>
<rect x="1251" y="270" width="1" height="41" fill="#000"/>
<rect x="1249" y="275" width="5" height="31" fill="#000"/>
<rect x="1250" y="276" width="3" height="29" fill="#fff"/>
<rect x="1259" y="254" width="1" height="29" fill="#000"/>
<rect x="1257" y="263" width="5" height="13" fill="#000"/>
<rect x="1258" y="264" width="3" height="11" fill="#fff"/>
<rect x="1267" y="240" width="1" height="39" fill="#000"/>
<rect x="1265" y="242" width="5" height="22" fill="#000"/>
<rect x="1266" y="243" width="3" height="20" fill="#fff"/>
<rect x="1275" y="242" width="1" height="5" fill="#000"/>
<rect x="1273" y="243" width="5" height="4" fill="#000"/>
<rect x="1283" y="242" width="1" height="21" fill="#000"/>
<rect x="1281" y="245" width="5" height="2" fill="#000"/>
<rect x="1291" y="240" width="1" height="55" fill="#000"/>
<rect x="1289" y="246" width="5" height="48" fill="#000"/>
<rect x="1299" y="257" width="1" height="66" fill="#000"/>
<rect x="1297" y="278" width="5" height="16" fill="#000"/>
<rect x="1298" y="279" width="3" height="14" fill="#fff"/>
<rect x="1307" y="263" width="1" height="56" fill="#000"/>
<rect x="1305" y="278" width="5" height="33" fill="#000"/>
<rect x="1315" y="293" width="1" height="40" fill="#000"/>
<rect x="1313" y="298" width="5" height="13" fill="#000"/>
<rect x="1314" y="299" width="3" height="11" fill="#fff"/>
<rect x="1323" y="296" width="1" height="8" fill="#000"/>
<rect x="1321" y="298" width="5" height="5" fill="#000"/>
<rect x="1322" y="299" width="3" height="3" fill="#fff"/>
<rect x="1331" y="260" width="1" height="41" fill="#000"/>
<rect x="1329" y="288" width="5" height="11" fill="#000"/>
<rect x="1330" y="289" width="3" height="9" fill="#fff"/>
<rect x="1339" y="269" width="1" height="28" fill="#000"/>
<rect x="1337" y="284" width="5" height="5" fill="#000"/>
<rect x="1338" y="285" width="3" height="3" fill="#fff"/>
<rect x="1347" y="244" width="1" height="44" fill="#000"/>
<rect x="1345" y="253" width="5" height="31" fill="#000"/>
<rect x="1346" y="254" width="3" height="29" fill="#fff"/>
<rect x="1355" y="247" width="1" height="25" fill="#000"/>
<rect x="1353" y="253" width="5" height="10" fill="#000"/>
<rect x="1363" y="258" width="1" height="38" fill="#000"/>
<rect x="1361" y="263" width="5" height="27" fill="#000"/>
<rect x="1371" y="280" width="1" height="10" fill="#000"/>
<rect x="1369" y="284" width="5" height="4" fill="#000"/>
<rect x="1370" y="285" width="3" height="2" fill="#fff"/>
<rect x="1379" y="268" width="1" height="30" fill="#000"/>
<rect x="1377" y="284" width="5" height="9" fill="#000"/>
<rect x="1387" y="286" width="1" height="19" fill="#000"/>
<rect x="1385" y="292" width="5" height="9" fill="#000"/>
<rect x="1395" y="300" width="1" height="53" fill="#000"/>
<rect x="1393" y="300" width="5" height="29" fill="#000"/>
<rect x="1403" y="317" width="1" height="45" fill="#000"/>
<rect x="1401" y="329" width="5" height="11" fill="#000"/>
<rect x="1411" y="317" width="1" height="55" fill="#000"/>
<rect x="1409" y="323" width="5" height="18" fill="#000"/>
<rect x="1410" y="324" width="3" height="16" fill="#fff"/>
<rect x="1419" y="331" width="1" height="14" fill="#000"/>
<rect x="1417" y="335" width="5" height="7" fill="#000"/>
<rect x="1427" y="335" width="1" height="19" fill="#000"/>
<rect x="1425" y="336" width="5" height="5" fill="#000"/>
<rect x="1426" y="337" width="3" height="3" fill="#fff"/>
<rect x="1435" y="282" width="1" height="60" fill="#000"/>
<rect x="1433" y="292" width="5" height="44" fill="#000"/>
<rect x="1434" y="293" width="3" height="42" fill="#fff"/>
</g>
<rect x="1160" y="311" width="322" height="6" fill="#00ff00"/>
<rect x="932.5" y="41.5" width="61" height="18" fill="#fff" stroke="#ff0000" stroke-width="1"/>
<rect x="994" y="50" width="9" height="1" fill="#ff0000"/>
<text x="934" y="57" font-size="16.5px" fill="#ff0000" font-weight="normal" text-anchor="start"  textLength="59" lengthAdjust="spacingAndGlyphs">142.659</text>
<rect x="332.5" y="155.5" width="61" height="18" fill="#fff" stroke="#ff0000" stroke-width="1"/>
<rect x="394" y="164" width="9" height="1" fill="#ff0000"/>
<text x="334" y="171" font-size="16.5px" fill="#ff0000" font-weight="normal" text-anchor="start"  textLength="59" lengthAdjust="spacingAndGlyphs">139.715</text>
<rect x="436.5" y="465.5" width="61" height="18" fill="#fff" stroke="#ff0000" stroke-width="1"/>
<rect x="498" y="474" width="9" height="1" fill="#ff0000"/>
<text x="438" y="481" font-size="16.5px" fill="#ff0000" font-weight="normal" text-anchor="start"  textLength="59" lengthAdjust="spacingAndGlyphs">131.734</text>
<rect x="1076.5" y="414.5" width="61" height="18" fill="#fff" stroke="#ff0000" stroke-width="1"/>
<rect x="1138" y="423" width="9" height="1" fill="#ff0000"/>
<text x="1078" y="430" font-size="16.5px" fill="#ff0000" font-weight="normal" text-anchor="start"  textLength="59" lengthAdjust="spacingAndGlyphs">133.029</text>
<rect x="950.5" y="300.5" width="73" height="24" fill="#fff" stroke="#ff0000" stroke-width="1"/>
<rect x="940" y="312" width="10" height="1" fill="#ff0000"/>
<text x="952" y="321" font-size="21.5px" fill="#ff0000" font-weight="bold" text-anchor="start"  textLength="71" lengthAdjust="spacingAndGlyphs">135.905</text>
<path d="M1348.6 253.1 L1415 351 M1418.5 356 L1439.8 291" stroke="#ff0000" stroke-width="3.2" fill="none"/>
<path d="M1408 355.5 L1415.5 349.5 L1421 355.5 L1417.5 363 Z" fill="#ff0000"/>
<path d="M1435 291.5 L1442.4 282 L1444 283.5 L1444 293 L1442.4 295 Z" fill="#ff0000"/>
<rect x="1492.5" y="288.5" width="110" height="24" fill="none" stroke="#383838" stroke-width="1"/>
<rect x="1493" y="312" width="110" height="1" fill="#ff00ff"/>
<path d="M1545.5 288.5 V286.5 H1547.5 V288.5" fill="#fff" stroke="#40c040" stroke-width="1"/>
<rect x="0" y="21" width="1686" height="1" fill="#000"/>
<rect x="1685" y="21" width="1" height="554" fill="#000"/>
<rect x="0" y="574" width="1686" height="1" fill="#000"/>
<rect x="0" y="576" width="1686" height="1" fill="#000"/>
<rect x="1685" y="576" width="1" height="171" fill="#000"/>
<rect x="0" y="746" width="1686" height="1" fill="#000"/>
<rect x="0" y="748" width="1686" height="1" fill="#000"/>
<rect x="1685" y="748" width="1" height="175" fill="#000"/>
<rect x="0" y="922" width="1686" height="1" fill="#000"/>
<path d="M1443 22 L1452 22 L1447.5 27 Z" fill="#c0c0c0"/>
<rect x="1686" y="43" width="2" height="1" fill="#000"/>
<text x="1691" y="46.5" font-size="9.5px" fill="#000" font-weight="normal" text-anchor="start"  textLength="33.2" lengthAdjust="spacingAndGlyphs">142.835</text>
<rect x="1686" y="76" width="2" height="1" fill="#000"/>
<text x="1691" y="79.5" font-size="9.5px" fill="#000" font-weight="normal" text-anchor="start"  textLength="33.2" lengthAdjust="spacingAndGlyphs">141.985</text>
<rect x="1686" y="109" width="2" height="1" fill="#000"/>
<text x="1691" y="112.5" font-size="9.5px" fill="#000" font-weight="normal" text-anchor="start"  textLength="33.2" lengthAdjust="spacingAndGlyphs">141.135</text>
<rect x="1686" y="142" width="2" height="1" fill="#000"/>
<text x="1691" y="145.5" font-size="9.5px" fill="#000" font-weight="normal" text-anchor="start"  textLength="33.2" lengthAdjust="spacingAndGlyphs">140.285</text>
<rect x="1686" y="175" width="2" height="1" fill="#000"/>
<text x="1691" y="178.5" font-size="9.5px" fill="#000" font-weight="normal" text-anchor="start"  textLength="33.2" lengthAdjust="spacingAndGlyphs">139.435</text>
<rect x="1686" y="208" width="2" height="1" fill="#000"/>
<text x="1691" y="211.5" font-size="9.5px" fill="#000" font-weight="normal" text-anchor="start"  textLength="33.2" lengthAdjust="spacingAndGlyphs">138.585</text>
<rect x="1686" y="241" width="2" height="1" fill="#000"/>
<text x="1691" y="244.5" font-size="9.5px" fill="#000" font-weight="normal" text-anchor="start"  textLength="33.2" lengthAdjust="spacingAndGlyphs">137.735</text>
<rect x="1686" y="274" width="2" height="1" fill="#000"/>
<text x="1691" y="277.5" font-size="9.5px" fill="#000" font-weight="normal" text-anchor="start"  textLength="33.2" lengthAdjust="spacingAndGlyphs">136.885</text>
<rect x="1686" y="307" width="2" height="1" fill="#000"/>
<text x="1691" y="310.5" font-size="9.5px" fill="#000" font-weight="normal" text-anchor="start"  textLength="33.2" lengthAdjust="spacingAndGlyphs">136.035</text>
<rect x="1686" y="340" width="2" height="1" fill="#000"/>
<text x="1691" y="343.5" font-size="9.5px" fill="#000" font-weight="normal" text-anchor="start"  textLength="33.2" lengthAdjust="spacingAndGlyphs">135.185</text>
<rect x="1686" y="373" width="2" height="1" fill="#000"/>
<text x="1691" y="376.5" font-size="9.5px" fill="#000" font-weight="normal" text-anchor="start"  textLength="33.2" lengthAdjust="spacingAndGlyphs">134.335</text>
<rect x="1686" y="406" width="2" height="1" fill="#000"/>
<text x="1691" y="409.5" font-size="9.5px" fill="#000" font-weight="normal" text-anchor="start"  textLength="33.2" lengthAdjust="spacingAndGlyphs">133.485</text>
<rect x="1686" y="439" width="2" height="1" fill="#000"/>
<text x="1691" y="442.5" font-size="9.5px" fill="#000" font-weight="normal" text-anchor="start"  textLength="33.2" lengthAdjust="spacingAndGlyphs">132.635</text>
<rect x="1686" y="472" width="2" height="1" fill="#000"/>
<text x="1691" y="475.5" font-size="9.5px" fill="#000" font-weight="normal" text-anchor="start"  textLength="33.2" lengthAdjust="spacingAndGlyphs">131.785</text>
<rect x="1686" y="505" width="2" height="1" fill="#000"/>
<text x="1691" y="508.5" font-size="9.5px" fill="#000" font-weight="normal" text-anchor="start"  textLength="33.2" lengthAdjust="spacingAndGlyphs">130.935</text>
<rect x="1686" y="538" width="2" height="1" fill="#000"/>
<text x="1691" y="541.5" font-size="9.5px" fill="#000" font-weight="normal" text-anchor="start"  textLength="33.2" lengthAdjust="spacingAndGlyphs">130.085</text>
<rect x="1686" y="571" width="2" height="1" fill="#000"/>
<text x="1691" y="574.5" font-size="9.5px" fill="#000" font-weight="normal" text-anchor="start"  textLength="33.2" lengthAdjust="spacingAndGlyphs">129.235</text>
<rect x="1687" y="232" width="41" height="11" fill="#ff0000"/>
<text x="1690.5" y="241" font-size="9.5px" fill="#fff" font-weight="normal" text-anchor="start"  textLength="33.2" lengthAdjust="spacingAndGlyphs">137.810</text>
<rect x="1687" y="259" width="41" height="11" fill="#ff0000"/>
<text x="1690.5" y="268" font-size="9.5px" fill="#fff" font-weight="normal" text-anchor="start"  textLength="33.2" lengthAdjust="spacingAndGlyphs">137.115</text>
<rect x="1687" y="287" width="41" height="11" fill="#000000"/>
<text x="1690.5" y="296" font-size="9.5px" fill="#fff" font-weight="normal" text-anchor="start"  textLength="33.2" lengthAdjust="spacingAndGlyphs">136.429</text>
<rect x="1687" y="307" width="41" height="11" fill="#32cd32"/>
<text x="1690.5" y="316" font-size="9.5px" fill="#fff" font-weight="normal" text-anchor="start"  textLength="33.2" lengthAdjust="spacingAndGlyphs">135.905</text>
<rect x="1687" y="330" width="41" height="11" fill="#0000ff"/>
<text x="1690.5" y="339" font-size="9.5px" fill="#fff" font-weight="normal" text-anchor="start"  textLength="33.2" lengthAdjust="spacingAndGlyphs">135.287</text>
<rect x="1687" y="351" width="41" height="11" fill="#0000ff"/>
<text x="1690.5" y="360" font-size="9.5px" fill="#fff" font-weight="normal" text-anchor="start"  textLength="33.2" lengthAdjust="spacingAndGlyphs">134.746</text>
<rect x="1680.5" y="236.5" width="4" height="4" fill="#fff" stroke="#ff0000"/>
<rect x="1680.5" y="334.5" width="4" height="4" fill="#fff" stroke="#0000ff"/>
<path d="M0 31 L2.5 27.5 L5 31 Z" fill="#000"/>
<text x="10" y="33" font-size="9.5px" fill="#000" font-weight="normal" text-anchor="start" >GBPJPY-,Daily</text>
<text x="79.5" y="33" font-size="9.5px" fill="#000" font-weight="normal" text-anchor="start"  textLength="141" lengthAdjust="spacingAndGlyphs">135.305 136.674 135.141 136.429</text>
<g clip-path="url(#cmacd)">
<rect x="3" y="670" width="1" height="24" fill="#c0c0c0"/>
<rect x="11" y="670" width="1" height="14" fill="#c0c0c0"/>
<rect x="19" y="670" width="1" height="6" fill="#c0c0c0"/>
<rect x="27" y="670" width="1" height="1" fill="#c0c0c0"/>
<rect x="35" y="666" width="1" height="5" fill="#c0c0c0"/>
<rect x="43" y="662" width="1" height="9" fill="#c0c0c0"/>
<rect x="51" y="660" width="1" height="11" fill="#c0c0c0"/>
<rect x="59" y="659" width="1" height="12" fill="#c0c0c0"/>
<rect x="67" y="659" width="1" height="12" fill="#c0c0c0"/>
<rect x="75" y="660" width="1" height="11" fill="#c0c0c0"/>
<rect x="83" y="662" width="1" height="9" fill="#c0c0c0"/>
<rect x="91" y="670" width="1" height="1" fill="#c0c0c0"/>
<rect x="99" y="670" width="1" height="4" fill="#c0c0c0"/>
<rect x="107" y="670" width="1" height="8" fill="#c0c0c0"/>
<rect x="115" y="670" width="1" height="11" fill="#c0c0c0"/>
<rect x="123" y="670" width="1" height="13" fill="#c0c0c0"/>
<rect x="131" y="670" width="1" height="13" fill="#c0c0c0"/>
<rect x="139" y="670" width="1" height="15" fill="#c0c0c0"/>
<rect x="147" y="670" width="1" height="15" fill="#c0c0c0"/>
<rect x="155" y="670" width="1" height="7" fill="#c0c0c0"/>
<rect x="163" y="670" width="1" height="7" fill="#c0c0c0"/>
<rect x="171" y="670" width="1" height="9" fill="#c0c0c0"/>
<rect x="179" y="670" width="1" height="11" fill="#c0c0c0"/>
<rect x="187" y="670" width="1" height="14" fill="#c0c0c0"/>
<rect x="195" y="670" width="1" height="22" fill="#c0c0c0"/>
<rect x="203" y="670" width="1" height="25" fill="#c0c0c0"/>
<rect x="211" y="670" width="1" height="24" fill="#c0c0c0"/>
<rect x="219" y="670" width="1" height="22" fill="#c0c0c0"/>
<rect x="227" y="670" width="1" height="20" fill="#c0c0c0"/>
<rect x="235" y="670" width="1" height="24" fill="#c0c0c0"/>
<rect x="243" y="670" width="1" height="29" fill="#c0c0c0"/>
<rect x="251" y="670" width="1" height="30" fill="#c0c0c0"/>
<rect x="259" y="670" width="1" height="36" fill="#c0c0c0"/>
<rect x="267" y="670" width="1" height="43" fill="#c0c0c0"/>
<rect x="275" y="670" width="1" height="41" fill="#c0c0c0"/>
<rect x="283" y="670" width="1" height="35" fill="#c0c0c0"/>
<rect x="291" y="670" width="1" height="31" fill="#c0c0c0"/>
<rect x="299" y="670" width="1" height="29" fill="#c0c0c0"/>
<rect x="307" y="670" width="1" height="29" fill="#c0c0c0"/>
<rect x="315" y="670" width="1" height="27" fill="#c0c0c0"/>
<rect x="323" y="670" width="1" height="25" fill="#c0c0c0"/>
<rect x="331" y="670" width="1" height="19" fill="#c0c0c0"/>
<rect x="339" y="670" width="1" height="15" fill="#c0c0c0"/>
<rect x="347" y="670" width="1" height="10" fill="#c0c0c0"/>
<rect x="355" y="670" width="1" height="5" fill="#c0c0c0"/>
<rect x="363" y="670" width="1" height="1" fill="#c0c0c0"/>
<rect x="371" y="662" width="1" height="9" fill="#c0c0c0"/>
<rect x="379" y="644" width="1" height="27" fill="#c0c0c0"/>
<rect x="387" y="630" width="1" height="41" fill="#c0c0c0"/>
<rect x="395" y="617" width="1" height="54" fill="#c0c0c0"/>
<rect x="403" y="603" width="1" height="68" fill="#c0c0c0"/>
<rect x="411" y="590" width="1" height="81" fill="#c0c0c0"/>
<rect x="419" y="586" width="1" height="85" fill="#c0c0c0"/>
<rect x="427" y="588" width="1" height="83" fill="#c0c0c0"/>
<rect x="435" y="595" width="1" height="76" fill="#c0c0c0"/>
<rect x="443" y="609" width="1" height="62" fill="#c0c0c0"/>
<rect x="451" y="620" width="1" height="51" fill="#c0c0c0"/>
<rect x="459" y="630" width="1" height="41" fill="#c0c0c0"/>
<rect x="467" y="631" width="1" height="40" fill="#c0c0c0"/>
<rect x="475" y="635" width="1" height="36" fill="#c0c0c0"/>
<rect x="483" y="643" width="1" height="28" fill="#c0c0c0"/>
<rect x="491" y="655" width="1" height="16" fill="#c0c0c0"/>
<rect x="499" y="667" width="1" height="4" fill="#c0c0c0"/>
<rect x="507" y="670" width="1" height="8" fill="#c0c0c0"/>
<rect x="515" y="670" width="1" height="9" fill="#c0c0c0"/>
<rect x="523" y="670" width="1" height="11" fill="#c0c0c0"/>
<rect x="531" y="670" width="1" height="15" fill="#c0c0c0"/>
<rect x="539" y="670" width="1" height="16" fill="#c0c0c0"/>
<rect x="547" y="670" width="1" height="20" fill="#c0c0c0"/>
<rect x="555" y="670" width="1" height="23" fill="#c0c0c0"/>
<rect x="563" y="670" width="1" height="25" fill="#c0c0c0"/>
<rect x="571" y="670" width="1" height="20" fill="#c0c0c0"/>
<rect x="579" y="670" width="1" height="16" fill="#c0c0c0"/>
<rect x="587" y="670" width="1" height="12" fill="#c0c0c0"/>
<rect x="595" y="670" width="1" height="8" fill="#c0c0c0"/>
<rect x="603" y="670" width="1" height="5" fill="#c0c0c0"/>
<rect x="611" y="670" width="1" height="3" fill="#c0c0c0"/>
<rect x="619" y="667" width="1" height="4" fill="#c0c0c0"/>
<rect x="627" y="662" width="1" height="9" fill="#c0c0c0"/>
<rect x="635" y="658" width="1" height="13" fill="#c0c0c0"/>
<rect x="643" y="656" width="1" height="15" fill="#c0c0c0"/>
<rect x="651" y="655" width="1" height="16" fill="#c0c0c0"/>
<rect x="659" y="655" width="1" height="16" fill="#c0c0c0"/>
<rect x="667" y="655" width="1" height="16" fill="#c0c0c0"/>
<rect x="675" y="656" width="1" height="15" fill="#c0c0c0"/>
<rect x="683" y="656" width="1" height="15" fill="#c0c0c0"/>
<rect x="691" y="658" width="1" height="13" fill="#c0c0c0"/>
<rect x="699" y="659" width="1" height="12" fill="#c0c0c0"/>
<rect x="707" y="655" width="1" height="16" fill="#c0c0c0"/>
<rect x="715" y="651" width="1" height="20" fill="#c0c0c0"/>
<rect x="723" y="646" width="1" height="25" fill="#c0c0c0"/>
<rect x="731" y="645" width="1" height="26" fill="#c0c0c0"/>
<rect x="739" y="645" width="1" height="26" fill="#c0c0c0"/>
<rect x="747" y="646" width="1" height="25" fill="#c0c0c0"/>
<rect x="755" y="647" width="1" height="24" fill="#c0c0c0"/>
<rect x="763" y="647" width="1" height="24" fill="#c0c0c0"/>
<rect x="771" y="645" width="1" height="26" fill="#c0c0c0"/>
<rect x="779" y="640" width="1" height="31" fill="#c0c0c0"/>
<rect x="787" y="631" width="1" height="40" fill="#c0c0c0"/>
<rect x="795" y="624" width="1" height="47" fill="#c0c0c0"/>
<rect x="803" y="619" width="1" height="52" fill="#c0c0c0"/>
<rect x="811" y="618" width="1" height="53" fill="#c0c0c0"/>
<rect x="819" y="616" width="1" height="55" fill="#c0c0c0"/>
<rect x="827" y="615" width="1" height="56" fill="#c0c0c0"/>
<rect x="835" y="616" width="1" height="55" fill="#c0c0c0"/>
<rect x="843" y="618" width="1" height="53" fill="#c0c0c0"/>
<rect x="851" y="619" width="1" height="52" fill="#c0c0c0"/>
<rect x="859" y="618" width="1" height="53" fill="#c0c0c0"/>
<rect x="867" y="616" width="1" height="55" fill="#c0c0c0"/>
<rect x="875" y="614" width="1" height="57" fill="#c0c0c0"/>
<rect x="883" y="614" width="1" height="57" fill="#c0c0c0"/>
<rect x="891" y="614" width="1" height="57" fill="#c0c0c0"/>
<rect x="899" y="618" width="1" height="53" fill="#c0c0c0"/>
<rect x="907" y="619" width="1" height="52" fill="#c0c0c0"/>
<rect x="915" y="622" width="1" height="49" fill="#c0c0c0"/>
<rect x="923" y="623" width="1" height="48" fill="#c0c0c0"/>
<rect x="931" y="628" width="1" height="43" fill="#c0c0c0"/>
<rect x="939" y="633" width="1" height="38" fill="#c0c0c0"/>
<rect x="947" y="637" width="1" height="34" fill="#c0c0c0"/>
<rect x="955" y="635" width="1" height="36" fill="#c0c0c0"/>
<rect x="963" y="634" width="1" height="37" fill="#c0c0c0"/>
<rect x="971" y="630" width="1" height="41" fill="#c0c0c0"/>
<rect x="979" y="628" width="1" height="43" fill="#c0c0c0"/>
<rect x="987" y="626" width="1" height="45" fill="#c0c0c0"/>
<rect x="995" y="622" width="1" height="49" fill="#c0c0c0"/>
<rect x="1003" y="618" width="1" height="53" fill="#c0c0c0"/>
<rect x="1011" y="616" width="1" height="55" fill="#c0c0c0"/>
<rect x="1019" y="619" width="1" height="52" fill="#c0c0c0"/>
<rect x="1027" y="621" width="1" height="50" fill="#c0c0c0"/>
<rect x="1035" y="624" width="1" height="47" fill="#c0c0c0"/>
<rect x="1043" y="631" width="1" height="40" fill="#c0c0c0"/>
<rect x="1051" y="647" width="1" height="24" fill="#c0c0c0"/>
<rect x="1059" y="657" width="1" height="14" fill="#c0c0c0"/>
<rect x="1067" y="670" width="1" height="3" fill="#c0c0c0"/>
<rect x="1075" y="670" width="1" height="17" fill="#c0c0c0"/>
<rect x="1083" y="670" width="1" height="27" fill="#c0c0c0"/>
<rect x="1091" y="670" width="1" height="35" fill="#c0c0c0"/>
<rect x="1099" y="670" width="1" height="41" fill="#c0c0c0"/>
<rect x="1107" y="670" width="1" height="43" fill="#c0c0c0"/>
<rect x="1115" y="670" width="1" height="46" fill="#c0c0c0"/>
<rect x="1123" y="670" width="1" height="51" fill="#c0c0c0"/>
<rect x="1131" y="670" width="1" height="54" fill="#c0c0c0"/>
<rect x="1139" y="670" width="1" height="59" fill="#c0c0c0"/>
<rect x="1147" y="670" width="1" height="65" fill="#c0c0c0"/>
<rect x="1155" y="670" width="1" height="68" fill="#c0c0c0"/>
<rect x="1163" y="670" width="1" height="67" fill="#c0c0c0"/>
<rect x="1171" y="670" width="1" height="66" fill="#c0c0c0"/>
<rect x="1179" y="670" width="1" height="63" fill="#c0c0c0"/>
<rect x="1187" y="670" width="1" height="56" fill="#c0c0c0"/>
<rect x="1195" y="670" width="1" height="49" fill="#c0c0c0"/>
<rect x="1203" y="670" width="1" height="42" fill="#c0c0c0"/>
<rect x="1211" y="670" width="1" height="37" fill="#c0c0c0"/>
<rect x="1219" y="670" width="1" height="31" fill="#c0c0c0"/>
<rect x="1227" y="670" width="1" height="26" fill="#c0c0c0"/>
<rect x="1235" y="670" width="1" height="17" fill="#c0c0c0"/>
<rect x="1243" y="670" width="1" height="16" fill="#c0c0c0"/>
<rect x="1251" y="670" width="1" height="11" fill="#c0c0c0"/>
<rect x="1259" y="670" width="1" height="6" fill="#c0c0c0"/>
<rect x="1267" y="670" width="1" height="1" fill="#c0c0c0"/>
<rect x="1275" y="666" width="1" height="5" fill="#c0c0c0"/>
<rect x="1283" y="662" width="1" height="9" fill="#c0c0c0"/>
<rect x="1291" y="665" width="1" height="6" fill="#c0c0c0"/>
<rect x="1299" y="665" width="1" height="6" fill="#c0c0c0"/>
<rect x="1307" y="669" width="1" height="2" fill="#c0c0c0"/>
<rect x="1315" y="670" width="1" height="1" fill="#c0c0c0"/>
<rect x="1323" y="670" width="1" height="1" fill="#c0c0c0"/>
<rect x="1331" y="670" width="1" height="1" fill="#c0c0c0"/>
<rect x="1339" y="670" width="1" height="1" fill="#c0c0c0"/>
<rect x="1347" y="667" width="1" height="4" fill="#c0c0c0"/>
<rect x="1355" y="665" width="1" height="6" fill="#c0c0c0"/>
<rect x="1363" y="667" width="1" height="4" fill="#c0c0c0"/>
<rect x="1371" y="667" width="1" height="4" fill="#c0c0c0"/>
<rect x="1379" y="669" width="1" height="2" fill="#c0c0c0"/>
<rect x="1387" y="670" width="1" height="1" fill="#c0c0c0"/>
<rect x="1395" y="670" width="1" height="5" fill="#c0c0c0"/>
<rect x="1403" y="670" width="1" height="10" fill="#c0c0c0"/>
<rect x="1411" y="670" width="1" height="12" fill="#c0c0c0"/>
<rect x="1419" y="670" width="1" height="15" fill="#c0c0c0"/>
<rect x="1427" y="670" width="1" height="16" fill="#c0c0c0"/>
<rect x="1435" y="670" width="1" height="13" fill="#c0c0c0"/>
<path d="M453 604h3v1h-3zM459 604h2v1h-2zM447 605h3v1h-3zM461 605h1v1h-1zM465 606h3v1h-3zM443 607h1v1h-1zM441 608h2v1h-2zM471 608h3v1h-3zM437 611h1v1h-1zM477 611h2v1h-2zM436 612h1v1h-1zM479 612h1v1h-1zM435 613h1v1h-1zM483 615h1v1h-1zM484 616h1v1h-1zM879 616h1v1h-1zM883 616h3v1h-3zM889 616h3v1h-3zM895 616h3v1h-3zM901 616h2v1h-2zM431 617h1v1h-1zM485 617h1v1h-1zM865 617h3v1h-3zM871 617h3v1h-3zM877 617h2v1h-2zM903 617h1v1h-1zM907 617h3v1h-3zM913 617h3v1h-3zM430 618h1v1h-1zM859 618h3v1h-3zM919 618h3v1h-3zM925 618h2v1h-2zM429 619h1v1h-1zM853 619h3v1h-3zM927 619h1v1h-1zM931 619h2v1h-2zM849 620h1v1h-1zM933 620h1v1h-1zM489 621h1v1h-1zM847 621h2v1h-2zM937 621h3v1h-3zM490 622h1v1h-1zM842 622h2v1h-2zM943 622h2v1h-2zM425 623h1v1h-1zM491 623h1v1h-1zM841 623h1v1h-1zM945 623h1v1h-1zM1033 623h3v1h-3zM1039 623h3v1h-3zM425 624h1v1h-1zM837 624h1v1h-1zM949 624h3v1h-3zM1023 624h1v1h-1zM1027 624h3v1h-3zM1045 624h3v1h-3zM424 625h1v1h-1zM835 625h2v1h-2zM955 625h2v1h-2zM1017 625h1v1h-1zM1021 625h2v1h-2zM1051 625h2v1h-2zM831 626h1v1h-1zM957 626h1v1h-1zM1015 626h2v1h-2zM1053 626h1v1h-1zM495 627h1v1h-1zM829 627h2v1h-2zM961 627h1v1h-1zM1009 627h3v1h-3zM1057 627h1v1h-1zM495 628h1v1h-1zM962 628h2v1h-2zM1005 628h1v1h-1zM1058 628h2v1h-2zM421 629h1v1h-1zM496 629h1v1h-1zM824 629h2v1h-2zM967 629h3v1h-3zM973 629h2v1h-2zM999 629h1v1h-1zM1003 629h2v1h-2zM420 630h1v1h-1zM823 630h1v1h-1zM975 630h1v1h-1zM979 630h3v1h-3zM991 630h3v1h-3zM997 630h2v1h-2zM419 631h1v1h-1zM985 631h3v1h-3zM1063 631h1v1h-1zM818 632h2v1h-2zM1064 632h1v1h-1zM500 633h1v1h-1zM817 633h1v1h-1zM1065 633h1v1h-1zM501 634h1v1h-1zM813 634h1v1h-1zM416 635h1v1h-1zM502 635h1v1h-1zM811 635h2v1h-2zM415 636h1v1h-1zM807 636h1v1h-1zM1069 636h1v1h-1zM414 637h1v1h-1zM805 637h2v1h-2zM1070 637h1v1h-1zM1071 638h1v1h-1zM505 639h1v1h-1zM799 639h3v1h-3zM506 640h1v1h-1zM411 641h1v1h-1zM507 641h1v1h-1zM793 641h3v1h-3zM410 642h1v1h-1zM789 642h1v1h-1zM1075 642h1v1h-1zM410 643h1v1h-1zM787 643h2v1h-2zM1076 643h1v1h-1zM783 644h1v1h-1zM1077 644h1v1h-1zM511 645h1v1h-1zM781 645h2v1h-2zM512 646h1v1h-1zM775 646h3v1h-3zM407 647h1v1h-1zM513 647h1v1h-1zM769 647h3v1h-3zM406 648h1v1h-1zM765 648h1v1h-1zM1080 648h1v1h-1zM405 649h1v1h-1zM759 649h1v1h-1zM763 649h2v1h-2zM1081 649h1v1h-1zM751 650h3v1h-3zM757 650h2v1h-2zM1082 650h1v1h-1zM517 651h2v1h-2zM745 651h3v1h-3zM519 652h1v1h-1zM735 652h1v1h-1zM739 652h3v1h-3zM402 653h1v1h-1zM729 653h1v1h-1zM733 653h2v1h-2zM401 654h1v1h-1zM727 654h2v1h-2zM1086 654h1v1h-1zM400 655h1v1h-1zM523 655h1v1h-1zM721 655h3v1h-3zM1087 655h1v1h-1zM524 656h1v1h-1zM703 656h3v1h-3zM709 656h3v1h-3zM715 656h3v1h-3zM1087 656h1v1h-1zM525 657h1v1h-1zM687 657h1v1h-1zM691 657h3v1h-3zM697 657h3v1h-3zM681 658h1v1h-1zM685 658h2v1h-2zM397 659h1v1h-1zM679 659h2v1h-2zM396 660h1v1h-1zM529 660h1v1h-1zM673 660h3v1h-3zM1091 660h1v1h-1zM395 661h1v1h-1zM530 661h1v1h-1zM669 661h1v1h-1zM1092 661h1v1h-1zM90 662h3v1h-3zM531 662h1v1h-1zM667 662h2v1h-2zM1093 662h1v1h-1zM84 663h3v1h-3zM96 663h3v1h-3zM661 663h3v1h-3zM79 664h2v1h-2zM102 664h3v1h-3zM78 665h1v1h-1zM108 665h1v1h-1zM391 665h1v1h-1zM535 665h1v1h-1zM655 665h3v1h-3zM74 666h1v1h-1zM109 666h2v1h-2zM391 666h1v1h-1zM536 666h1v1h-1zM1096 666h1v1h-1zM72 667h2v1h-2zM114 667h3v1h-3zM390 667h1v1h-1zM537 667h1v1h-1zM650 667h2v1h-2zM1097 667h1v1h-1zM120 668h1v1h-1zM649 668h1v1h-1zM1097 668h1v1h-1zM1319 668h3v1h-3zM1325 668h3v1h-3zM1331 668h3v1h-3zM1337 668h3v1h-3zM1343 668h3v1h-3zM1349 668h3v1h-3zM1355 668h3v1h-3zM67 669h2v1h-2zM121 669h2v1h-2zM1313 669h3v1h-3zM1361 669h3v1h-3zM1367 669h3v1h-3zM1373 669h3v1h-3zM1379 669h3v1h-3zM1385 669h3v1h-3zM1391 669h3v1h-3zM1397 669h2v1h-2zM66 670h1v1h-1zM126 670h1v1h-1zM541 670h2v1h-2zM644 670h2v1h-2zM1309 670h1v1h-1zM1399 670h1v1h-1zM1403 670h3v1h-3zM127 671h2v1h-2zM386 671h1v1h-1zM543 671h1v1h-1zM643 671h1v1h-1zM1307 671h2v1h-2zM1409 671h3v1h-3zM62 672h1v1h-1zM132 672h1v1h-1zM385 672h1v1h-1zM1101 672h1v1h-1zM1301 672h3v1h-3zM1415 672h2v1h-2zM60 673h2v1h-2zM133 673h2v1h-2zM384 673h1v1h-1zM638 673h2v1h-2zM1101 673h1v1h-1zM1417 673h1v1h-1zM547 674h1v1h-1zM637 674h1v1h-1zM1102 674h1v1h-1zM1295 674h3v1h-3zM1421 674h2v1h-2zM138 675h3v1h-3zM548 675h2v1h-2zM1423 675h1v1h-1zM380 676h1v1h-1zM632 676h2v1h-2zM1291 676h1v1h-1zM1427 676h3v1h-3zM55 677h2v1h-2zM144 677h2v1h-2zM379 677h1v1h-1zM631 677h1v1h-1zM1289 677h2v1h-2zM1433 677h3v1h-3zM54 678h1v1h-1zM146 678h1v1h-1zM150 678h1v1h-1zM378 678h1v1h-1zM553 678h2v1h-2zM1105 678h1v1h-1zM151 679h2v1h-2zM156 679h3v1h-3zM555 679h1v1h-1zM626 679h2v1h-2zM1106 679h1v1h-1zM162 680h3v1h-3zM625 680h1v1h-1zM1107 680h1v1h-1zM1284 680h2v1h-2zM50 681h1v1h-1zM168 681h3v1h-3zM174 681h3v1h-3zM180 681h3v1h-3zM186 681h3v1h-3zM373 681h2v1h-2zM621 681h1v1h-1zM1283 681h1v1h-1zM48 682h2v1h-2zM192 682h3v1h-3zM372 682h1v1h-1zM559 682h2v1h-2zM619 682h2v1h-2zM198 683h3v1h-3zM561 683h1v1h-1zM615 683h1v1h-1zM1279 683h1v1h-1zM43 684h2v1h-2zM204 684h3v1h-3zM613 684h2v1h-2zM1110 684h1v1h-1zM1278 684h1v1h-1zM42 685h1v1h-1zM210 685h3v1h-3zM367 685h2v1h-2zM565 685h3v1h-3zM607 685h3v1h-3zM1111 685h1v1h-1zM1277 685h1v1h-1zM216 686h3v1h-3zM222 686h1v1h-1zM366 686h1v1h-1zM571 686h3v1h-3zM601 686h3v1h-3zM1112 686h1v1h-1zM38 687h1v1h-1zM223 687h2v1h-2zM228 687h1v1h-1zM577 687h3v1h-3zM591 687h1v1h-1zM595 687h3v1h-3zM1273 687h1v1h-1zM36 688h2v1h-2zM229 688h2v1h-2zM362 688h1v1h-1zM583 688h3v1h-3zM589 688h2v1h-2zM1271 688h2v1h-2zM234 689h3v1h-3zM360 689h2v1h-2zM240 690h1v1h-1zM1115 690h1v1h-1zM241 691h2v1h-2zM354 691h3v1h-3zM1116 691h1v1h-1zM1267 691h1v1h-1zM32 692h1v1h-1zM246 692h3v1h-3zM1117 692h1v1h-1zM1265 692h2v1h-2zM31 693h1v1h-1zM252 693h1v1h-1zM349 693h2v1h-2zM31 694h1v1h-1zM253 694h2v1h-2zM348 694h1v1h-1zM344 695h1v1h-1zM1260 695h2v1h-2zM258 696h3v1h-3zM342 696h2v1h-2zM1121 696h1v1h-1zM1259 696h1v1h-1zM264 697h1v1h-1zM1122 697h1v1h-1zM27 698h1v1h-1zM265 698h2v1h-2zM338 698h1v1h-1zM1123 698h1v1h-1zM26 699h1v1h-1zM270 699h3v1h-3zM336 699h2v1h-2zM1255 699h1v1h-1zM25 700h1v1h-1zM276 700h3v1h-3zM1253 700h2v1h-2zM282 701h3v1h-3zM330 701h3v1h-3zM288 702h3v1h-3zM294 702h1v1h-1zM325 702h2v1h-2zM1127 702h2v1h-2zM21 703h1v1h-1zM295 703h2v1h-2zM300 703h3v1h-3zM312 703h3v1h-3zM318 703h3v1h-3zM324 703h1v1h-1zM1129 703h1v1h-1zM1249 703h1v1h-1zM20 704h1v1h-1zM306 704h3v1h-3zM1247 704h2v1h-2zM19 705h1v1h-1zM1133 707h1v1h-1zM1243 707h1v1h-1zM1134 708h1v1h-1zM1241 708h2v1h-2zM15 709h1v1h-1zM1135 709h1v1h-1zM14 710h1v1h-1zM13 711h1v1h-1zM1237 711h1v1h-1zM1139 712h1v1h-1zM1236 712h1v1h-1zM1140 713h2v1h-2zM1235 713h1v1h-1zM9 715h1v1h-1zM7 716h2v1h-2zM1145 716h2v1h-2zM1231 716h1v1h-1zM1147 717h1v1h-1zM1229 717h2v1h-2zM1151 719h1v1h-1zM3 720h1v1h-1zM1152 720h2v1h-2zM1224 720h2v1h-2zM1 721h2v1h-2zM1223 721h1v1h-1zM1157 722h1v1h-1zM1158 723h2v1h-2zM1218 723h2v1h-2zM-3 724h1v1h-1zM1217 724h1v1h-1zM-4 725h1v1h-1zM1163 725h2v1h-2zM-5 726h1v1h-1zM1165 726h1v1h-1zM1212 726h2v1h-2zM1169 727h1v1h-1zM1211 727h1v1h-1zM1170 728h2v1h-2zM1205 728h3v1h-3zM1175 729h2v1h-2zM1201 729h1v1h-1zM1177 730h1v1h-1zM1181 730h2v1h-2zM1199 730h2v1h-2zM1183 731h1v1h-1zM1187 731h3v1h-3zM1193 731h3v1h-3z" fill="#ff0000"/>
</g>
<text x="0" y="588" font-size="9.5px" fill="#000" font-weight="normal" text-anchor="start"  textLength="133" lengthAdjust="spacingAndGlyphs">MACD(12,26,9) -0.2548 -0.1486</text>
<rect x="1686" y="578" width="2" height="1" fill="#000"/>
<text x="1690" y="587" font-size="9.5px" fill="#000" font-weight="normal" text-anchor="start" >1.787</text>
<rect x="1686" y="670" width="2" height="1" fill="#000"/>
<text x="1691" y="673.5" font-size="9.5px" fill="#000" font-weight="normal" text-anchor="start" >0.00</text>
<rect x="1686" y="745" width="2" height="1" fill="#000"/>
<text x="1689" y="743" font-size="9.5px" fill="#000" font-weight="normal" text-anchor="start" >-1.471</text>
<path d="M0 784.5 H1685" stroke="#c0c0c0" stroke-width="1" stroke-dasharray="3 3"/>
<path d="M0 835.5 H1685" stroke="#c0c0c0" stroke-width="1" stroke-dasharray="3 3"/>
<path d="M0 896.5 H1685" stroke="#c0c0c0" stroke-width="1" stroke-dasharray="3 3"/>
<g clip-path="url(#crsi)">
<path d="M-4.5 834.0 L3.5 832.1 L11.5 826.0 L19.5 825.9 L27.5 825.9 L35.5 828.1 L43.5 824.3 L51.5 829.6 L59.5 828.9 L67.5 833.3 L75.5 832.4 L83.5 837.9 L91.5 851.2 L99.5 846.9 L107.5 845.6 L115.5 848.4 L123.5 845.1 L131.5 841.0 L139.5 846.8 L147.5 843.6 L155.5 821.8 L163.5 838.0 L171.5 842.3 L179.5 843.7 L187.5 846.5 L195.5 858.9 L203.5 850.5 L211.5 842.3 L219.5 838.9 L227.5 839.7 L235.5 851.5 L243.5 854.7 L251.5 849.1 L259.5 859.1 L267.5 861.9 L275.5 846.2 L283.5 835.7 L291.5 839.9 L299.5 840.7 L307.5 845.6 L315.5 842.1 L323.5 841.0 L331.5 829.7 L339.5 833.4 L347.5 829.6 L355.5 826.9 L363.5 826.0 L371.5 814.5 L379.5 798.5 L387.5 797.9 L395.5 795.3 L403.5 789.8 L411.5 787.6 L419.5 804.4 L427.5 815.5 L435.5 824.7 L443.5 838.2 L451.5 839.0 L459.5 838.4 L467.5 826.2 L475.5 832.3 L483.5 839.7 L491.5 847.9 L499.5 853.4 L507.5 854.2 L515.5 839.3 L523.5 841.7 L531.5 844.8 L539.5 842.3 L547.5 848.4 L555.5 848.0 L563.5 846.8 L571.5 834.1 L579.5 833.6 L587.5 832.0 L595.5 831.0 L603.5 830.0 L611.5 831.0 L619.5 822.8 L627.5 819.1 L635.5 821.0 L643.5 823.4 L651.5 823.7 L659.5 829.0 L667.5 827.2 L675.5 830.2 L683.5 828.2 L691.5 834.2 L699.5 830.3 L707.5 815.7 L715.5 812.2 L723.5 808.0 L731.5 816.1 L739.5 824.1 L747.5 823.6 L755.5 821.9 L763.5 819.9 L771.5 813.2 L779.5 802.5 L787.5 792.0 L795.5 791.5 L803.5 791.5 L811.5 802.0 L819.5 798.8 L827.5 797.6 L835.5 807.4 L843.5 810.1 L851.5 804.8 L859.5 800.8 L867.5 797.1 L875.5 793.3 L883.5 801.0 L891.5 799.3 L899.5 815.6 L907.5 809.5 L915.5 817.3 L923.5 810.1 L931.5 829.3 L939.5 828.3 L947.5 829.6 L955.5 813.5 L963.5 813.6 L971.5 805.2 L979.5 808.3 L987.5 805.4 L995.5 799.4 L1003.5 797.4 L1011.5 800.3 L1019.5 819.4 L1027.5 814.8 L1035.5 820.6 L1043.5 833.8 L1051.5 858.1 L1059.5 849.7 L1067.5 864.3 L1075.5 865.6 L1083.5 862.7 L1091.5 863.4 L1099.5 863.8 L1107.5 858.4 L1115.5 861.1 L1123.5 866.3 L1131.5 865.1 L1139.5 872.2 L1147.5 874.3 L1155.5 874.0 L1163.5 863.3 L1171.5 864.1 L1179.5 858.3 L1187.5 843.7 L1195.5 842.7 L1203.5 837.3 L1211.5 839.9 L1219.5 835.6 L1227.5 834.1 L1235.5 822.0 L1243.5 839.0 L1251.5 829.8 L1259.5 826.2 L1267.5 820.6 L1275.5 822.3 L1283.5 822.3 L1291.5 839.1 L1299.5 834.0 L1307.5 844.0 L1315.5 839.7 L1323.5 839.7 L1331.5 836.2 L1339.5 834.7 L1347.5 824.2 L1355.5 827.8 L1363.5 837.8 L1371.5 835.8 L1379.5 839.0 L1387.5 841.9 L1395.5 851.4 L1403.5 854.8 L1411.5 847.2 L1419.5 853.1 L1427.5 850.3 L1435.5 832.6" fill="none" stroke="#1e90ff" stroke-width="1" shape-rendering="crispEdges"/>
</g>
<text x="0" y="760" font-size="9.5px" fill="#000" font-weight="normal" text-anchor="start"  textLength="67" lengthAdjust="spacingAndGlyphs">RSI(14) 51.6364</text>
<rect x="1686" y="750" width="2" height="1" fill="#000"/>
<rect x="1686" y="784" width="2" height="1" fill="#000"/>
<rect x="1686" y="835" width="2" height="1" fill="#000"/>
<rect x="1686" y="896" width="2" height="1" fill="#000"/>
<rect x="1686" y="921" width="2" height="1" fill="#000"/>
<text x="1689" y="759" font-size="9.5px" fill="#000" font-weight="normal" text-anchor="start" >100</text>
<text x="1689" y="788" font-size="9.5px" fill="#000" font-weight="normal" text-anchor="start" >80</text>
<text x="1689" y="839" font-size="9.5px" fill="#000" font-weight="normal" text-anchor="start" >50</text>
<text x="1689" y="900" font-size="9.5px" fill="#000" font-weight="normal" text-anchor="start" >15</text>
<text x="1689" y="919" font-size="9.5px" fill="#000" font-weight="normal" text-anchor="start" >0</text>
<text x="3" y="934.3" font-size="9.25px" fill="#000" font-weight="normal" text-anchor="start" >Apr 2020</text>
<rect x="59" y="923" width="1" height="3" fill="#000"/>
<text x="59" y="934.3" font-size="9.25px" fill="#000" font-weight="normal" text-anchor="start" >16 Apr 2020</text>
<rect x="123" y="923" width="1" height="3" fill="#000"/>
<text x="123" y="934.3" font-size="9.25px" fill="#000" font-weight="normal" text-anchor="start" >26 Apr 2020</text>
<rect x="187" y="923" width="1" height="3" fill="#000"/>
<text x="187" y="934.3" font-size="9.25px" fill="#000" font-weight="normal" text-anchor="start" >5 May 2020</text>
<rect x="251" y="923" width="1" height="3" fill="#000"/>
<text x="251" y="934.3" font-size="9.25px" fill="#000" font-weight="normal" text-anchor="start" >14 May 2020</text>
<rect x="315" y="923" width="1" height="3" fill="#000"/>
<text x="315" y="934.3" font-size="9.25px" fill="#000" font-weight="normal" text-anchor="start" >24 May 2020</text>
<rect x="379" y="923" width="1" height="3" fill="#000"/>
<text x="379" y="934.3" font-size="9.25px" fill="#000" font-weight="normal" text-anchor="start" >2 Jun 2020</text>
<rect x="443" y="923" width="1" height="3" fill="#000"/>
<text x="443" y="934.3" font-size="9.25px" fill="#000" font-weight="normal" text-anchor="start" >11 Jun 2020</text>
<rect x="507" y="923" width="1" height="3" fill="#000"/>
<text x="507" y="934.3" font-size="9.25px" fill="#000" font-weight="normal" text-anchor="start" >21 Jun 2020</text>
<rect x="571" y="923" width="1" height="3" fill="#000"/>
<text x="571" y="934.3" font-size="9.25px" fill="#000" font-weight="normal" text-anchor="start" >30 Jun 2020</text>
<rect x="635" y="923" width="1" height="3" fill="#000"/>
<text x="635" y="934.3" font-size="9.25px" fill="#000" font-weight="normal" text-anchor="start" >9 Jul 2020</text>
<rect x="699" y="923" width="1" height="3" fill="#000"/>
<text x="699" y="934.3" font-size="9.25px" fill="#000" font-weight="normal" text-anchor="start" >19 Jul 2020</text>
<rect x="763" y="923" width="1" height="3" fill="#000"/>
<text x="763" y="934.3" font-size="9.25px" fill="#000" font-weight="normal" text-anchor="start" >28 Jul 2020</text>
<rect x="827" y="923" width="1" height="3" fill="#000"/>
<text x="827" y="934.3" font-size="9.25px" fill="#000" font-weight="normal" text-anchor="start" >6 Aug 2020</text>
<rect x="891" y="923" width="1" height="3" fill="#000"/>
<text x="891" y="934.3" font-size="9.25px" fill="#000" font-weight="normal" text-anchor="start" >16 Aug 2020</text>
<rect x="955" y="923" width="1" height="3" fill="#000"/>
<text x="955" y="934.3" font-size="9.25px" fill="#000" font-weight="normal" text-anchor="start" >25 Aug 2020</text>
<rect x="1019" y="923" width="1" height="3" fill="#000"/>
<text x="1019" y="934.3" font-size="9.25px" fill="#000" font-weight="normal" text-anchor="start" >3 Sep 2020</text>
<rect x="1083" y="923" width="1" height="3" fill="#000"/>
<text x="1083" y="934.3" font-size="9.25px" fill="#000" font-weight="normal" text-anchor="start" >13 Sep 2020</text>
<rect x="1147" y="923" width="1" height="3" fill="#000"/>
<text x="1147" y="934.3" font-size="9.25px" fill="#000" font-weight="normal" text-anchor="start" >22 Sep 2020</text>
<rect x="1211" y="923" width="1" height="3" fill="#000"/>
<text x="1211" y="934.3" font-size="9.25px" fill="#000" font-weight="normal" text-anchor="start" >1 Oct 2020</text>
<rect x="1275" y="923" width="1" height="3" fill="#000"/>
<text x="1275" y="934.3" font-size="9.25px" fill="#000" font-weight="normal" text-anchor="start" >11 Oct 2020</text>
<rect x="1339" y="923" width="1" height="3" fill="#000"/>
<text x="1339" y="934.3" font-size="9.25px" fill="#000" font-weight="normal" text-anchor="start" >20 Oct 2020</text>
<rect x="1403" y="923" width="1" height="3" fill="#000"/>
<text x="1403" y="934.3" font-size="9.25px" fill="#000" font-weight="normal" text-anchor="start" >29 Oct 2020</text>
<rect x="1731" y="19" width="1" height="920" fill="#e3e3e3"/>
<rect x="0" y="0" width="1732" height="16" fill="#f0f0f0"/>
<rect x="0" y="16" width="1732" height="1" fill="#f6f6f6"/>
<rect x="0" y="17" width="1732" height="1" fill="#a0a0a0"/>
<rect x="0" y="18" width="1731" height="1" fill="#696969"/>
<rect x="-1" y="-2" width="9" height="13" fill="#fff" stroke="#3a78c8" stroke-width="1"/>
<rect x="0" y="1" width="7" height="1" fill="#a8c4ec"/>
<rect x="0" y="3" width="7" height="1" fill="#a8c4ec"/>
<rect x="0" y="5" width="7" height="1" fill="#a8c4ec"/>
<rect x="0" y="7" width="7" height="1" fill="#a8c4ec"/>
<rect x="21.5" y="-2" width="11" height="12" fill="#fff" stroke="#a09a88"/>
<circle cx="29.5" cy="6.5" r="4.5" fill="#dceefa" stroke="#5a96d8" stroke-width="1"/>
<path d="M33 10 L38 14" stroke="#d0a020" stroke-width="2.5"/>
<rect x="46" y="0" width="1" height="15" fill="#a0a0a0"/>
<rect x="56.5" y="-2" width="11" height="12" fill="#fff" stroke="#808080"/>
<rect x="58" y="3" width="7" height="1" fill="#707070"/>
<rect x="58" y="6" width="7" height="1" fill="#909090"/>
<path d="M64.5 3 h4 v4 h4 v4 h-4 v4 h-4 v-4 h-4 v-4 h4 z" fill="#20c020" stroke="#108010" stroke-width="0.8"/>
<path d="M124 7 L131 0 L139 5 L132 12 Z" fill="#e0b030" stroke="#a07010" stroke-width="1"/>
<rect x="153" y="-2" width="10" height="8" fill="#3a8ee0"/>
<path d="M152 12 q-2 -5 4 -5 q2 -3 6 -1 q5 0 5 4 q0 2 -2 2 z" fill="#e8eef8" stroke="#7890b0" stroke-width="1"/>
<circle cx="187" cy="5" r="6.5" fill="none" stroke="#9cc0e8" stroke-width="1"/>
<circle cx="187" cy="5" r="4" fill="none" stroke="#6aa0dc" stroke-width="1"/>
<path d="M187 5 L187 12 L193 8" fill="none" stroke="#30a030" stroke-width="1.5"/>
<circle cx="187" cy="4.5" r="1.5" fill="#2060c0"/>
<path d="M206 3 L216 -1 L222 3 L216 12 Z" fill="#f0d040" stroke="#c0a020"/>
<ellipse cx="214" cy="1" rx="7" ry="3" fill="#4aa0e0"/>
<circle cx="218" cy="8.5" r="4.5" fill="#d01818"/>
<rect x="216.5" y="7" width="3" height="3" fill="#fff"/>
<rect x="282" y="0" width="1" height="17" fill="#a0a0a0"/>
<rect x="286" y="1" width="3" height="1" fill="#b4b4b4"/>
<rect x="286" y="3" width="3" height="1" fill="#b4b4b4"/>
<rect x="286" y="5" width="3" height="1" fill="#b4b4b4"/>
<rect x="286" y="7" width="3" height="1" fill="#b4b4b4"/>
<rect x="286" y="9" width="3" height="1" fill="#b4b4b4"/>
<rect x="286" y="11" width="3" height="1" fill="#b4b4b4"/>
<rect x="286" y="13" width="3" height="1" fill="#b4b4b4"/>
<rect x="300" y="0" width="1" height="13" fill="#505050"/>
<rect x="298" y="10" width="13" height="1" fill="#505050"/>
<path d="M310 8 L313 10.5 L310 13 Z" fill="#505050"/>
<path d="M306.5 0 V9 M306.5 1.5 H309 M306.5 7.5 H304" stroke="#1a8a1a" stroke-width="1.2" fill="none"/>
<rect x="320" y="0" width="1" height="15" fill="#a0a0a0"/>
<rect x="322" y="0" width="23" height="15" fill="#f5f5f5"/>
<rect x="328" y="0" width="1" height="13" fill="#505050"/>
<rect x="326" y="10" width="13" height="1" fill="#505050"/>
<path d="M338 8 L341 10.5 L338 13 Z" fill="#505050"/>
<rect x="332" y="-1" width="5" height="8" fill="#30c030" stroke="#108010" stroke-width="0.8"/>
<rect x="334" y="7" width="1" height="2" fill="#108010"/>
<rect x="356" y="0" width="1" height="13" fill="#505050"/>
<rect x="354" y="10" width="13" height="1" fill="#505050"/>
<path d="M366 8 L369 10.5 L366 13 Z" fill="#505050"/>
<path d="M355.5 7.5 L358 4.5 L361 2.3 L364 4.5 L366.7 6" stroke="#2a9a2a" stroke-width="1.2" fill="none"/>
<rect x="377" y="0" width="1" height="15" fill="#a0a0a0"/>
<circle cx="391.9" cy="2.9" r="5.2" fill="#dff0fb" stroke="#3a7cc4" stroke-width="1.2"/>
<path d="M389 2.9 h6 M391.9 0 v6" stroke="#2f6fb0" stroke-width="1.4"/>
<path d="M395.5 6.8 L400.5 11.8" stroke="#b08a10" stroke-width="3"/><path d="M395.5 6.8 L400.5 11.8" stroke="#e8cc40" stroke-width="1.5"/>
<circle cx="420" cy="2.9" r="5.2" fill="#dff0fb" stroke="#3a7cc4" stroke-width="1.2"/>
<path d="M417 2.9 h6" stroke="#2f6fb0" stroke-width="1.4"/>
<path d="M423.6 6.8 L428.6 11.8" stroke="#b08a10" stroke-width="3"/><path d="M423.6 6.8 L428.6 11.8" stroke="#e8cc40" stroke-width="1.5"/>
<rect x="442" y="-1" width="7.5" height="6" fill="#3aa028"/><rect x="450" y="-1" width="7.5" height="6" fill="#2a5cc8"/>
<rect x="442" y="5.5" width="7.5" height="7" fill="#2a5cc8"/><rect x="450" y="5.5" width="7.5" height="7" fill="#3aa028"/>
<rect x="443.5" y="0" width="4.5" height="3.5" fill="#fff"/><rect x="451.5" y="0" width="4.5" height="3.5" fill="#fff"/>
<rect x="443.5" y="8" width="4.5" height="3.5" fill="#fff"/><rect x="451.5" y="8" width="4.5" height="3.5" fill="#fff"/>
<rect x="467" y="0" width="1" height="15" fill="#a0a0a0"/>
<rect x="472" y="0" width="1" height="15" fill="#a0a0a0"/>
<rect x="474" y="0" width="24" height="15" fill="#f5f5f5"/>
<rect x="480" y="0" width="1" height="13" fill="#505050"/>
<rect x="478" y="10" width="13" height="1" fill="#505050"/>
<path d="M490 8 L493 10.5 L490 13 Z" fill="#505050"/>
<path d="M485 0.5 L489 4.5 L485 8.3 Z" fill="#30b030" stroke="#108010" stroke-width="0.7"/>
<rect x="500" y="0" width="1" height="15" fill="#a0a0a0"/>
<rect x="502" y="0" width="24" height="15" fill="#f5f5f5"/>
<rect x="508" y="0" width="1" height="13" fill="#505050"/>
<rect x="506" y="10" width="13" height="1" fill="#505050"/>
<path d="M518 8 L521 10.5 L518 13 Z" fill="#505050"/>
<rect x="514" y="0" width="1" height="9" fill="#1a60a0"/>
<path d="M515.5 4.5 L519.5 2 L518.5 4.5 L520.5 4.5 L520.5 5 L518.5 5 L519.5 7 Z" fill="#e05010"/>
<rect x="529" y="0" width="1" height="15" fill="#a0a0a0"/>
<rect x="539.5" y="-1" width="11" height="11" rx="1" fill="#fff" stroke="#707070"/>
<path d="M546.5 3 h3.6 v3.6 h3.6 v3.6 h-3.6 v3.6 h-3.6 v-3.6 h-3.6 v-3.6 h3.6 z" fill="#30c830" stroke="#128012" stroke-width="0.8"/>
<path d="M560.5 4 h5.5 l-2.75 3 z" fill="#000"/>
<circle cx="584.7" cy="5.2" r="7" fill="#1a68c8"/><circle cx="584.7" cy="5.2" r="5" fill="#fafafa"/>
<path d="M584.2 1.5 v3.8 h2.8" stroke="#222" stroke-width="1.1" fill="none"/>
<path d="M599.7 4 h5.5 l-2.75 3 z" fill="#000"/>
<rect x="616.5" y="-1" width="15" height="12.5" fill="#fff" stroke="#3a70b8"/>
<rect x="617" y="0" width="15" height="1" fill="#7aa6dc"/>
<rect x="617" y="6" width="15" height="1" fill="#3a70b8"/>
<path d="M618 4 l2 -0.5 l2 -1 l2 0.5 l2 -1 l2 0.5 l2 -1" stroke="#b02010" fill="none"/><path d="M618 9 l2 -1 l2 0.5 l2 -1 l2 -1 l2 1.5 l2 1" stroke="#109010" fill="none"/>
<path d="M638.7 4 h5.5 l-2.75 3 z" fill="#000"/>
<rect x="650" y="0" width="1" height="17" fill="#a0a0a0"/>
<rect x="654" y="1" width="3" height="1" fill="#b4b4b4"/>
<rect x="654" y="3" width="3" height="1" fill="#b4b4b4"/>
<rect x="654" y="5" width="3" height="1" fill="#b4b4b4"/>
<rect x="654" y="7" width="3" height="1" fill="#b4b4b4"/>
<rect x="654" y="9" width="3" height="1" fill="#b4b4b4"/>
<rect x="654" y="11" width="3" height="1" fill="#b4b4b4"/>
<rect x="654" y="13" width="3" height="1" fill="#b4b4b4"/>
<rect x="660" y="0" width="1" height="15" fill="#a0a0a0"/>
<rect x="661" y="0" width="24" height="15" fill="#f5f5f5"/>
<path d="M668 0 L668 8.7 L670.3 6.8 L672.4 11.6 L674.1 10.9 L672.1 6.2 L675.5 5.8 Z" fill="#4a4a4a"/>
<path d="M700.5 0 v4.5 M700.5 6.5 v6.5 M693 5.5 h6.5 M701.5 5.5 h6.5" stroke="#404040" stroke-width="1"/>
<rect x="717" y="0" width="1" height="15" fill="#a0a0a0"/>
<rect x="734" y="0" width="1" height="12" fill="#404040"/>
<rect x="757" y="5" width="12" height="1" fill="#404040"/>
<path d="M785 12 L797 0" stroke="#444" stroke-width="1"/>
<path d="M811 7 L819 -1 M813 12 L825 0 M812 9 l3 -3 M815 9 l3 -3 M818 8 l3 -3" stroke="#555" stroke-width="1.1" fill="none"/>
<text x="821.5" y="14" font-size="6.5px" fill="#333" font-weight="bold" text-anchor="start" >E</text>
<path d="M840 1.5 h13" stroke="#555" stroke-dasharray="1 1"/>
<path d="M840 5.5 h13" stroke="#555" stroke-dasharray="1 1"/>
<path d="M840 9.5 h13" stroke="#555" stroke-dasharray="1 1"/>
<text x="849.5" y="14" font-size="6.5px" fill="#333" font-weight="bold" text-anchor="start" >F</text>
<text x="870.5" y="10" font-size="11.5px" fill="#585858" font-weight="bold" text-anchor="start" >A</text>
<rect x="897.5" y="1.5" width="11" height="10" fill="none" stroke="#666" stroke-dasharray="1 1"/>
<path d="M899.5 3 h7 M903 3 v7" stroke="#505050" stroke-width="1.6"/>
<path d="M924 3 L927 0 L930 3 Z M931 8 L938 8 L934.5 12 Z" fill="#505050"/><path d="M926 5.5 L928.5 8 L933 3.5" stroke="#505050" stroke-width="1.2" fill="none"/>
<path d="M945 4 h5.5 l-2.75 3 z" fill="#000"/>
<rect x="956" y="0" width="1" height="17" fill="#a0a0a0"/>
<rect x="960" y="1" width="3" height="1" fill="#b4b4b4"/>
<rect x="960" y="3" width="3" height="1" fill="#b4b4b4"/>
<rect x="960" y="5" width="3" height="1" fill="#b4b4b4"/>
<rect x="960" y="7" width="3" height="1" fill="#b4b4b4"/>
<rect x="960" y="9" width="3" height="1" fill="#b4b4b4"/>
<rect x="960" y="11" width="3" height="1" fill="#b4b4b4"/>
<rect x="960" y="13" width="3" height="1" fill="#b4b4b4"/>
<rect x="1135" y="0" width="25" height="15" fill="#f5f5f5"/>
<rect x="1134" y="0" width="1" height="15" fill="#a0a0a0"/>
<text x="971" y="9.5" font-size="9.5px" fill="#3c3c3c" font-weight="normal" text-anchor="start" >M1</text>
<text x="999" y="9.5" font-size="9.5px" fill="#3c3c3c" font-weight="normal" text-anchor="start" >M5</text>
<text x="1025" y="9.5" font-size="9.5px" fill="#3c3c3c" font-weight="normal" text-anchor="start" >M15</text>
<text x="1053" y="9.5" font-size="9.5px" fill="#3c3c3c" font-weight="normal" text-anchor="start" >M30</text>
<text x="1085" y="9.5" font-size="9.5px" fill="#3c3c3c" font-weight="normal" text-anchor="start" >H1</text>
<text x="1112" y="9.5" font-size="9.5px" fill="#3c3c3c" font-weight="normal" text-anchor="start" >H4</text>
<text x="1141" y="9.5" font-size="9.5px" fill="#3c3c3c" font-weight="normal" text-anchor="start" >D1</text>
<text x="1169" y="9.5" font-size="9.5px" fill="#3c3c3c" font-weight="normal" text-anchor="start" >W1</text>
<text x="1194" y="9.5" font-size="9.5px" fill="#3c3c3c" font-weight="normal" text-anchor="start" >MN</text>
<rect x="1217" y="0" width="1" height="17" fill="#a0a0a0"/>
<circle cx="1687" cy="2" r="4.2" fill="none" stroke="#2a60d0" stroke-width="1.6"/>
<path d="M1684 5.5 L1680.5 9.5" stroke="#2a60d0" stroke-width="2.2" stroke-linecap="round"/>
<ellipse cx="1712" cy="4" rx="5" ry="3.5" fill="#f4f4f4" stroke="#909090"/>
<ellipse cx="1720" cy="2" rx="5" ry="3.5" fill="#e8e8e8" stroke="#909090"/>
<rect x="0" y="65" width="107" height="40" fill="url(#gbig)"/>
<rect x="0" y="41" width="50" height="24" fill="url(#gtab)"/>
<rect x="0" y="41" width="50" height="1" fill="#b40000"/>
<rect x="49" y="41" width="1" height="25" fill="#b40000"/>
<rect x="49" y="65" width="58" height="1" fill="#b40000"/>
<rect x="106" y="65" width="1" height="40" fill="#b40000"/>
<rect x="2" y="64" width="45" height="1" fill="#8c0000"/>
<rect x="2" y="65" width="45" height="1" fill="#ff8080"/>
<text x="10" y="57.3" font-size="13px" fill="#fff" font-weight="normal" text-anchor="start"  textLength="28" lengthAdjust="spacingAndGlyphs">SELL</text>
<text x="21" y="95.6" font-size="13.5px" fill="#fff" font-weight="bold" text-anchor="start"  textLength="23" lengthAdjust="spacingAndGlyphs">136</text>
<text x="44.5" y="95.6" font-size="35px" fill="#fff" font-weight="normal" text-anchor="start"  textLength="37" lengthAdjust="spacingAndGlyphs">42</text>
<text x="84.5" y="79.6" font-size="12.5px" fill="#fff" font-weight="bold" text-anchor="start" >9</text>
<rect x="109" y="65" width="108" height="40" fill="url(#gbig)"/>
<rect x="165" y="41" width="52" height="24" fill="url(#gtab)"/>
<rect x="165" y="41" width="52" height="1" fill="#b40000"/>
<rect x="165" y="41" width="1" height="25" fill="#b40000"/>
<rect x="109" y="65" width="57" height="1" fill="#b40000"/>
<rect x="109" y="65" width="1" height="40" fill="#b40000"/>
<rect x="216" y="41" width="1" height="64" fill="#b40000"/>
<rect x="169" y="64" width="45" height="1" fill="#8c0000"/>
<rect x="169" y="65" width="45" height="1" fill="#ff8080"/>
<text x="178" y="57.3" font-size="13px" fill="#fff" font-weight="normal" text-anchor="start"  textLength="25" lengthAdjust="spacingAndGlyphs">BUY</text>
<text x="131" y="95.6" font-size="13.5px" fill="#fff" font-weight="bold" text-anchor="start"  textLength="23" lengthAdjust="spacingAndGlyphs">136</text>
<text x="155.5" y="95.6" font-size="35px" fill="#fff" font-weight="normal" text-anchor="start"  textLength="37" lengthAdjust="spacingAndGlyphs">47</text>
<text x="195.5" y="79.6" font-size="12.5px" fill="#fff" font-weight="bold" text-anchor="start" >8</text>
<rect x="52.5" y="41.5" width="110" height="21" fill="#fff" stroke="#a8abb2"/>
<rect x="73" y="42" width="1" height="21" fill="#a8abb2"/>
<rect x="141" y="42" width="1" height="21" fill="#a8abb2"/>
<rect x="54" y="43" width="18" height="18" fill="url(#gbtn)"/>
<rect x="143" y="43" width="18" height="18" fill="url(#gbtn)"/>
<path d="M60 49.5 h5.5 l-2.75 3.2 z" fill="#4a60c0"/>
<path d="M149 53 h5.5 l-2.75 -3.2 z" fill="#4a60c0"/>
<text x="138" y="56.5" font-size="12.5px" fill="#000" font-weight="normal" text-anchor="end" >1.00</text>
<path d="M1502.7 290.6 L1494.4 296.4 M1502 293.2 L1509.6 292.9 L1503.2 296.7 M1500.2 293.9 L1502.2 296.7 M1500.7 298.4 L1494 300.5 M1503.5 298 L1495 304.6 M1502.7 301.5 L1510.4 301 L1499.2 307.4 L1494 308.4 M1501 303.1 L1501.7 305.9 M1523 290.3 L1524.5 292.6 M1517.3 292.9 L1516.6 295.7 M1517.3 293.4 L1532.9 293.4 L1531.4 295.2 M1522.5 295.4 L1516.1 299.8 M1526.3 295.4 L1531.7 298.5 M1518.4 300.5 L1530.6 300.5 M1524.2 300.5 L1524.2 307.4 M1515.6 307.6 L1533.4 307.6 M1537 293.4 L1544.7 293.4 M1541.1 290.3 L1538.3 298.7 L1543.7 299.2 M1541.9 295.9 L1541.9 309 M1537 304.6 L1539.6 303.1 L1545.7 302.4 M1546 294.4 L1553.4 294.1 M1550.6 290.3 L1548.5 299.8 M1543.7 298.5 L1553.9 298.5 M1547 301.3 L1553.9 301.3 L1551.4 304.4 M1546.5 304.4 L1552.6 308.4 M1559.1 295.4 L1565.2 295.4 M1563.5 290.3 L1563.5 307.4 L1560.1 307.4 M1559.3 300.8 L1566.7 298.2 M1568.3 292.3 L1577 291.3 M1568.5 292.3 L1568.5 300.8 L1564.4 308.4 M1568.8 297.5 L1577.7 297.5 M1573.9 297.5 L1573.9 308.7 M1590.3 290.3 L1590.3 297.2 M1590.3 293.2 L1598.5 293.2 M1585.2 297.3 L1595.9 297.3 L1595.9 302.3 L1585.2 302.3 Z M1584.7 303.3 L1582.6 308.2 M1587.7 305.6 L1588.8 307.4 M1592.1 305.6 L1593.4 307.4 M1597 305.6 L1598.2 307.4" fill="none" stroke="#00ff00" stroke-width="1.25" stroke-linecap="round" stroke-linejoin="round"/>
<path d="M75 2.5 H81 M75.5 4.5 H80.5 M78.5 2.5 V9 M78 5.5 L75.5 8.5 M79 6 L81 8 M76.5 0.5 L77 2 M82.5 2.5 H89.5 M84.5 2.5 V9 M82.5 5.5 H90 M88 5.5 V9 M86 0 L83 1.5 M87.5 1 L89 2 M88 4 H90 V8 L91 7 M91.5 1.5 H98 M95.5 1.5 V9 L93.5 8 M100.5 0.5 V4.5 M109.5 0.5 V4.5 M100.5 1.5 H109.5 M100.5 3.5 H109.5 M100.5 4.5 H109.5 M99 6.5 H111 M105 0 V9.5 M228.5 0 V9 M236.5 0 V9 M228.5 1.5 H236.5 M228.5 4.5 H236.5 M228.5 7.5 H236.5 M240 2.5 H244.5 M239.5 5 H245 M242 5 L240 8.5 L245 8 M244 7 L245 8.5 M245.5 0.5 H250.5 V8.5 L248.5 8 M247.5 0 L246.5 5 L245.5 8.5 M252 0.5 H263 M255.5 2 L253.5 4 M259.5 2 L261.5 4 M260 4.5 L253 9 M255 4.5 L262.5 9 M266.5 0 V2.5 H273.5 V0 M265 4.5 H274.5 V8.5 L273 9 M267.5 4.5 L264.5 8.5 M270 5 L267.5 9 M272.5 5 L270 9" fill="none" stroke="#101010" stroke-width="1" stroke-linecap="square" shape-rendering="crispEdges"/>
</svg></body></html>
